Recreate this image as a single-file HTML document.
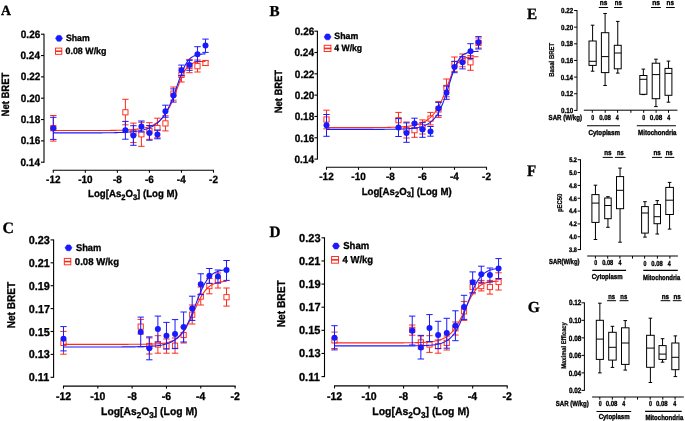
<!DOCTYPE html>
<html><head><meta charset="utf-8"><style>
html,body{margin:0;padding:0;background:#fff;width:685px;height:421px;overflow:hidden}
svg{display:block;filter:blur(0.3px)}
text{text-rendering:geometricPrecision}
.s{font-family:"Liberation Sans",sans-serif;font-weight:bold;fill:#000;stroke:#000;stroke-width:0.3px}
.sm{font-family:"Liberation Sans",sans-serif;font-weight:bold;fill:#000;stroke:#000;stroke-width:0.3px}
.v{font-family:"Liberation Sans",sans-serif;font-weight:bold;fill:#000;stroke:#000;stroke-width:0.2px}
.hid{font-family:"Liberation Sans",sans-serif;font-weight:bold;fill:transparent;stroke:none}
.r{font-family:"Liberation Serif",serif;font-weight:bold;fill:#000;stroke:#000;stroke-width:0.3px}
</style></head><body>
<svg width="685" height="421" viewBox="0 0 685 421">
<defs></defs>
<rect width="685" height="421" fill="#fff"/>
<line x1="44.00" y1="33.72" x2="44.00" y2="162.70" stroke="#000" stroke-width="1.1" />
<line x1="41.00" y1="162.20" x2="44.00" y2="162.20" stroke="#000" stroke-width="1.1" />
<text class="s" transform="translate(20.49,165.65) scale(1.0000,1.06)" font-size="10.00" >0.14</text>
<line x1="41.00" y1="140.87" x2="44.00" y2="140.87" stroke="#000" stroke-width="1.1" />
<text class="s" transform="translate(20.80,144.32) scale(1.0000,1.06)" font-size="10.00" >0.16</text>
<line x1="41.00" y1="119.54" x2="44.00" y2="119.54" stroke="#000" stroke-width="1.1" />
<text class="s" transform="translate(20.74,122.99) scale(1.0000,1.06)" font-size="10.00" >0.18</text>
<line x1="41.00" y1="98.21" x2="44.00" y2="98.21" stroke="#000" stroke-width="1.1" />
<text class="s" transform="translate(20.85,101.66) scale(1.0000,1.06)" font-size="10.00" >0.20</text>
<line x1="41.00" y1="76.88" x2="44.00" y2="76.88" stroke="#000" stroke-width="1.1" />
<text class="s" transform="translate(20.84,80.33) scale(1.0000,1.06)" font-size="10.00" >0.22</text>
<line x1="41.00" y1="55.55" x2="44.00" y2="55.55" stroke="#000" stroke-width="1.1" />
<text class="s" transform="translate(20.49,59.00) scale(1.0000,1.06)" font-size="10.00" >0.24</text>
<line x1="41.00" y1="34.22" x2="44.00" y2="34.22" stroke="#000" stroke-width="1.1" />
<text class="s" transform="translate(20.80,37.67) scale(1.0000,1.06)" font-size="10.00" >0.26</text>
<line x1="52.80" y1="170.20" x2="214.00" y2="170.20" stroke="#000" stroke-width="1.1" />
<line x1="53.30" y1="170.20" x2="53.30" y2="172.70" stroke="#000" stroke-width="1.1" />
<text class="s" transform="translate(46.11,182.80) scale(1.0000,1.06)" font-size="9.95" >-12</text>
<line x1="85.34" y1="170.20" x2="85.34" y2="172.70" stroke="#000" stroke-width="1.1" />
<text class="s" transform="translate(78.16,182.80) scale(1.0000,1.06)" font-size="9.95" >-10</text>
<line x1="117.38" y1="170.20" x2="117.38" y2="172.70" stroke="#000" stroke-width="1.1" />
<text class="s" transform="translate(112.92,182.80) scale(1.0000,1.06)" font-size="9.95" >-8</text>
<line x1="149.42" y1="170.20" x2="149.42" y2="172.70" stroke="#000" stroke-width="1.1" />
<text class="s" transform="translate(144.98,182.80) scale(1.0000,1.06)" font-size="9.95" >-6</text>
<line x1="181.46" y1="170.20" x2="181.46" y2="172.70" stroke="#000" stroke-width="1.1" />
<text class="s" transform="translate(176.87,182.80) scale(1.0000,1.06)" font-size="9.95" >-4</text>
<line x1="213.50" y1="170.20" x2="213.50" y2="172.70" stroke="#000" stroke-width="1.1" />
<text class="s" transform="translate(209.08,182.80) scale(1.0000,1.06)" font-size="9.95" >-2</text>
<line x1="53.30" y1="115.50" x2="53.30" y2="141.10" stroke="#ff2a1a" stroke-width="1.0" />
<line x1="50.10" y1="115.50" x2="56.50" y2="115.50" stroke="#ff2a1a" stroke-width="1.0" />
<line x1="50.10" y1="141.10" x2="56.50" y2="141.10" stroke="#ff2a1a" stroke-width="1.0" />
<rect x="50.70" y="125.60" width="5.2" height="5.2" fill="#fff" stroke="#ff2a1a" stroke-width="0.95"/>
<line x1="125.39" y1="99.30" x2="125.39" y2="124.80" stroke="#ff2a1a" stroke-width="1.0" />
<line x1="122.19" y1="99.30" x2="128.59" y2="99.30" stroke="#ff2a1a" stroke-width="1.0" />
<line x1="122.19" y1="124.80" x2="128.59" y2="124.80" stroke="#ff2a1a" stroke-width="1.0" />
<rect x="122.79" y="109.70" width="5.2" height="5.2" fill="#fff" stroke="#ff2a1a" stroke-width="0.95"/>
<line x1="133.40" y1="123.10" x2="133.40" y2="142.60" stroke="#ff2a1a" stroke-width="1.0" />
<line x1="130.20" y1="123.10" x2="136.60" y2="123.10" stroke="#ff2a1a" stroke-width="1.0" />
<line x1="130.20" y1="142.60" x2="136.60" y2="142.60" stroke="#ff2a1a" stroke-width="1.0" />
<rect x="130.80" y="130.30" width="5.2" height="5.2" fill="#fff" stroke="#ff2a1a" stroke-width="0.95"/>
<line x1="141.41" y1="122.30" x2="141.41" y2="146.30" stroke="#ff2a1a" stroke-width="1.0" />
<line x1="138.21" y1="122.30" x2="144.61" y2="122.30" stroke="#ff2a1a" stroke-width="1.0" />
<line x1="138.21" y1="146.30" x2="144.61" y2="146.30" stroke="#ff2a1a" stroke-width="1.0" />
<rect x="138.81" y="131.70" width="5.2" height="5.2" fill="#fff" stroke="#ff2a1a" stroke-width="0.95"/>
<line x1="149.42" y1="122.70" x2="149.42" y2="139.30" stroke="#ff2a1a" stroke-width="1.0" />
<line x1="146.22" y1="122.70" x2="152.62" y2="122.70" stroke="#ff2a1a" stroke-width="1.0" />
<line x1="146.22" y1="139.30" x2="152.62" y2="139.30" stroke="#ff2a1a" stroke-width="1.0" />
<rect x="146.82" y="128.40" width="5.2" height="5.2" fill="#fff" stroke="#ff2a1a" stroke-width="0.95"/>
<line x1="157.43" y1="118.20" x2="157.43" y2="137.80" stroke="#ff2a1a" stroke-width="1.0" />
<line x1="154.23" y1="118.20" x2="160.63" y2="118.20" stroke="#ff2a1a" stroke-width="1.0" />
<line x1="154.23" y1="137.80" x2="160.63" y2="137.80" stroke="#ff2a1a" stroke-width="1.0" />
<rect x="154.83" y="125.40" width="5.2" height="5.2" fill="#fff" stroke="#ff2a1a" stroke-width="0.95"/>
<line x1="165.44" y1="115.80" x2="165.44" y2="130.90" stroke="#ff2a1a" stroke-width="1.0" />
<line x1="162.24" y1="115.80" x2="168.64" y2="115.80" stroke="#ff2a1a" stroke-width="1.0" />
<line x1="162.24" y1="130.90" x2="168.64" y2="130.90" stroke="#ff2a1a" stroke-width="1.0" />
<rect x="162.84" y="120.80" width="5.2" height="5.2" fill="#fff" stroke="#ff2a1a" stroke-width="0.95"/>
<line x1="173.45" y1="87.00" x2="173.45" y2="100.20" stroke="#ff2a1a" stroke-width="1.0" />
<line x1="170.25" y1="87.00" x2="176.65" y2="87.00" stroke="#ff2a1a" stroke-width="1.0" />
<line x1="170.25" y1="100.20" x2="176.65" y2="100.20" stroke="#ff2a1a" stroke-width="1.0" />
<rect x="170.85" y="91.00" width="5.2" height="5.2" fill="#fff" stroke="#ff2a1a" stroke-width="0.95"/>
<line x1="181.46" y1="68.00" x2="181.46" y2="82.00" stroke="#ff2a1a" stroke-width="1.0" />
<line x1="178.26" y1="68.00" x2="184.66" y2="68.00" stroke="#ff2a1a" stroke-width="1.0" />
<line x1="178.26" y1="82.00" x2="184.66" y2="82.00" stroke="#ff2a1a" stroke-width="1.0" />
<rect x="178.86" y="72.40" width="5.2" height="5.2" fill="#fff" stroke="#ff2a1a" stroke-width="0.95"/>
<line x1="189.47" y1="59.40" x2="189.47" y2="72.70" stroke="#ff2a1a" stroke-width="1.0" />
<line x1="186.27" y1="59.40" x2="192.67" y2="59.40" stroke="#ff2a1a" stroke-width="1.0" />
<line x1="186.27" y1="72.70" x2="192.67" y2="72.70" stroke="#ff2a1a" stroke-width="1.0" />
<rect x="186.87" y="63.40" width="5.2" height="5.2" fill="#fff" stroke="#ff2a1a" stroke-width="0.95"/>
<line x1="197.48" y1="60.00" x2="197.48" y2="72.00" stroke="#ff2a1a" stroke-width="1.0" />
<line x1="194.28" y1="60.00" x2="200.68" y2="60.00" stroke="#ff2a1a" stroke-width="1.0" />
<line x1="194.28" y1="72.00" x2="200.68" y2="72.00" stroke="#ff2a1a" stroke-width="1.0" />
<rect x="194.88" y="63.60" width="5.2" height="5.2" fill="#fff" stroke="#ff2a1a" stroke-width="0.95"/>
<line x1="205.49" y1="61.00" x2="205.49" y2="65.50" stroke="#ff2a1a" stroke-width="1.0" />
<line x1="202.29" y1="61.00" x2="208.69" y2="61.00" stroke="#ff2a1a" stroke-width="1.0" />
<line x1="202.29" y1="65.50" x2="208.69" y2="65.50" stroke="#ff2a1a" stroke-width="1.0" />
<rect x="202.89" y="60.40" width="5.2" height="5.2" fill="#fff" stroke="#ff2a1a" stroke-width="0.95"/>
<path d="M53.30,130.55 L54.58,130.55 L55.86,130.55 L57.14,130.55 L58.42,130.55 L59.69,130.55 L60.97,130.55 L62.25,130.55 L63.53,130.55 L64.81,130.55 L66.09,130.55 L67.37,130.55 L68.65,130.55 L69.93,130.55 L71.20,130.55 L72.48,130.55 L73.76,130.55 L75.04,130.55 L76.32,130.55 L77.60,130.55 L78.88,130.55 L80.16,130.54 L81.44,130.54 L82.71,130.54 L83.99,130.54 L85.27,130.54 L86.55,130.54 L87.83,130.54 L89.11,130.53 L90.39,130.53 L91.67,130.53 L92.95,130.53 L94.23,130.52 L95.50,130.52 L96.78,130.52 L98.06,130.51 L99.34,130.51 L100.62,130.50 L101.90,130.49 L103.18,130.49 L104.46,130.48 L105.74,130.47 L107.01,130.46 L108.29,130.45 L109.57,130.44 L110.85,130.42 L112.13,130.41 L113.41,130.39 L114.69,130.37 L115.97,130.35 L117.25,130.32 L118.52,130.29 L119.80,130.26 L121.08,130.23 L122.36,130.19 L123.64,130.14 L124.92,130.10 L126.20,130.04 L127.48,129.98 L128.76,129.91 L130.03,129.83 L131.31,129.75 L132.59,129.65 L133.87,129.54 L135.15,129.42 L136.43,129.28 L137.71,129.13 L138.99,128.96 L140.27,128.77 L141.54,128.55 L142.82,128.31 L144.10,128.04 L145.38,127.74 L146.66,127.40 L147.94,127.02 L149.22,126.60 L150.50,126.12 L151.78,125.59 L153.05,124.99 L154.33,124.33 L155.61,123.58 L156.89,122.74 L158.17,121.81 L159.45,120.76 L160.73,119.59 L162.01,118.29 L163.29,116.84 L164.56,115.22 L165.84,113.42 L167.12,111.42 L168.40,109.22 L169.68,106.81 L170.96,104.17 L172.24,101.31 L173.52,98.25 L174.80,95.01 L176.08,91.63 L177.35,88.18 L178.63,84.74 L179.91,81.38 L181.19,78.20 L182.47,75.28 L183.75,72.67 L185.03,70.40 L186.31,68.49 L187.59,66.91 L188.86,65.64 L190.14,64.62 L191.42,63.83 L192.70,63.21 L193.98,62.74 L195.26,62.38 L196.54,62.11 L197.82,61.90 L199.10,61.75 L200.37,61.63 L201.65,61.54 L202.93,61.48 L204.21,61.43 L205.49,61.39" fill="none" stroke="#ff2a1a" stroke-width="1.1"/>
<path d="M53.30,132.92 L54.58,132.92 L55.86,132.92 L57.14,132.92 L58.42,132.92 L59.69,132.92 L60.97,132.92 L62.25,132.92 L63.53,132.92 L64.81,132.92 L66.09,132.92 L67.37,132.92 L68.65,132.92 L69.93,132.91 L71.20,132.91 L72.48,132.91 L73.76,132.91 L75.04,132.91 L76.32,132.91 L77.60,132.91 L78.88,132.91 L80.16,132.91 L81.44,132.91 L82.71,132.90 L83.99,132.90 L85.27,132.90 L86.55,132.90 L87.83,132.89 L89.11,132.89 L90.39,132.89 L91.67,132.88 L92.95,132.88 L94.23,132.87 L95.50,132.87 L96.78,132.86 L98.06,132.86 L99.34,132.85 L100.62,132.84 L101.90,132.83 L103.18,132.82 L104.46,132.81 L105.74,132.80 L107.01,132.78 L108.29,132.77 L109.57,132.75 L110.85,132.73 L112.13,132.71 L113.41,132.68 L114.69,132.66 L115.97,132.63 L117.25,132.59 L118.52,132.55 L119.80,132.51 L121.08,132.46 L122.36,132.41 L123.64,132.35 L124.92,132.29 L126.20,132.22 L127.48,132.14 L128.76,132.04 L130.03,131.94 L131.31,131.83 L132.59,131.71 L133.87,131.57 L135.15,131.41 L136.43,131.24 L137.71,131.05 L138.99,130.83 L140.27,130.59 L141.54,130.32 L142.82,130.02 L144.10,129.69 L145.38,129.32 L146.66,128.91 L147.94,128.45 L149.22,127.93 L150.50,127.36 L151.78,126.72 L153.05,126.01 L154.33,125.22 L155.61,124.34 L156.89,123.36 L158.17,122.26 L159.45,121.05 L160.73,119.70 L162.01,118.20 L163.29,116.54 L164.56,114.71 L165.84,112.68 L167.12,110.45 L168.40,108.00 L169.68,105.33 L170.96,102.44 L172.24,99.33 L173.52,96.01 L174.80,92.51 L176.08,88.89 L177.35,85.18 L178.63,81.48 L179.91,77.85 L181.19,74.38 L182.47,71.14 L183.75,68.19 L185.03,65.58 L186.31,63.32 L187.59,61.40 L188.86,59.80 L190.14,58.49 L191.42,57.44 L192.70,56.60 L193.98,55.93 L195.26,55.41 L196.54,55.01 L197.82,54.69 L199.10,54.45 L200.37,54.26 L201.65,54.12 L202.93,54.00 L204.21,53.92 L205.49,53.85" fill="none" stroke="#1a1aff" stroke-width="1.1"/>
<line x1="53.30" y1="117.30" x2="53.30" y2="139.40" stroke="#1a1aff" stroke-width="1.0" />
<line x1="50.10" y1="117.30" x2="56.50" y2="117.30" stroke="#1a1aff" stroke-width="1.0" />
<line x1="50.10" y1="139.40" x2="56.50" y2="139.40" stroke="#1a1aff" stroke-width="1.0" />
<circle cx="53.30" cy="128.30" r="3.0" fill="#1a1aff"/>
<line x1="125.39" y1="121.40" x2="125.39" y2="139.20" stroke="#1a1aff" stroke-width="1.0" />
<line x1="122.19" y1="121.40" x2="128.59" y2="121.40" stroke="#1a1aff" stroke-width="1.0" />
<line x1="122.19" y1="139.20" x2="128.59" y2="139.20" stroke="#1a1aff" stroke-width="1.0" />
<circle cx="125.39" cy="130.30" r="3.0" fill="#1a1aff"/>
<line x1="133.40" y1="125.70" x2="133.40" y2="145.30" stroke="#1a1aff" stroke-width="1.0" />
<line x1="130.20" y1="125.70" x2="136.60" y2="125.70" stroke="#1a1aff" stroke-width="1.0" />
<line x1="130.20" y1="145.30" x2="136.60" y2="145.30" stroke="#1a1aff" stroke-width="1.0" />
<circle cx="133.40" cy="135.40" r="3.0" fill="#1a1aff"/>
<line x1="141.41" y1="121.00" x2="141.41" y2="132.00" stroke="#1a1aff" stroke-width="1.0" />
<line x1="138.21" y1="121.00" x2="144.61" y2="121.00" stroke="#1a1aff" stroke-width="1.0" />
<line x1="138.21" y1="132.00" x2="144.61" y2="132.00" stroke="#1a1aff" stroke-width="1.0" />
<circle cx="141.41" cy="126.40" r="3.0" fill="#1a1aff"/>
<line x1="149.42" y1="125.50" x2="149.42" y2="140.20" stroke="#1a1aff" stroke-width="1.0" />
<line x1="146.22" y1="125.50" x2="152.62" y2="125.50" stroke="#1a1aff" stroke-width="1.0" />
<line x1="146.22" y1="140.20" x2="152.62" y2="140.20" stroke="#1a1aff" stroke-width="1.0" />
<circle cx="149.42" cy="132.90" r="3.0" fill="#1a1aff"/>
<line x1="157.43" y1="130.00" x2="157.43" y2="138.80" stroke="#1a1aff" stroke-width="1.0" />
<line x1="154.23" y1="130.00" x2="160.63" y2="130.00" stroke="#1a1aff" stroke-width="1.0" />
<line x1="154.23" y1="138.80" x2="160.63" y2="138.80" stroke="#1a1aff" stroke-width="1.0" />
<circle cx="157.43" cy="134.50" r="3.0" fill="#1a1aff"/>
<line x1="165.44" y1="105.20" x2="165.44" y2="117.20" stroke="#1a1aff" stroke-width="1.0" />
<line x1="162.24" y1="105.20" x2="168.64" y2="105.20" stroke="#1a1aff" stroke-width="1.0" />
<line x1="162.24" y1="117.20" x2="168.64" y2="117.20" stroke="#1a1aff" stroke-width="1.0" />
<circle cx="165.44" cy="111.30" r="3.0" fill="#1a1aff"/>
<line x1="173.45" y1="88.90" x2="173.45" y2="102.10" stroke="#1a1aff" stroke-width="1.0" />
<line x1="170.25" y1="88.90" x2="176.65" y2="88.90" stroke="#1a1aff" stroke-width="1.0" />
<line x1="170.25" y1="102.10" x2="176.65" y2="102.10" stroke="#1a1aff" stroke-width="1.0" />
<circle cx="173.45" cy="95.50" r="3.0" fill="#1a1aff"/>
<line x1="181.46" y1="65.10" x2="181.46" y2="75.60" stroke="#1a1aff" stroke-width="1.0" />
<line x1="178.26" y1="65.10" x2="184.66" y2="65.10" stroke="#1a1aff" stroke-width="1.0" />
<line x1="178.26" y1="75.60" x2="184.66" y2="75.60" stroke="#1a1aff" stroke-width="1.0" />
<circle cx="181.46" cy="70.30" r="3.0" fill="#1a1aff"/>
<line x1="189.47" y1="60.40" x2="189.47" y2="70.30" stroke="#1a1aff" stroke-width="1.0" />
<line x1="186.27" y1="60.40" x2="192.67" y2="60.40" stroke="#1a1aff" stroke-width="1.0" />
<line x1="186.27" y1="70.30" x2="192.67" y2="70.30" stroke="#1a1aff" stroke-width="1.0" />
<circle cx="189.47" cy="65.10" r="3.0" fill="#1a1aff"/>
<line x1="197.48" y1="46.70" x2="197.48" y2="61.30" stroke="#1a1aff" stroke-width="1.0" />
<line x1="194.28" y1="46.70" x2="200.68" y2="46.70" stroke="#1a1aff" stroke-width="1.0" />
<line x1="194.28" y1="61.30" x2="200.68" y2="61.30" stroke="#1a1aff" stroke-width="1.0" />
<circle cx="197.48" cy="54.30" r="3.0" fill="#1a1aff"/>
<line x1="205.49" y1="39.10" x2="205.49" y2="52.40" stroke="#1a1aff" stroke-width="1.0" />
<line x1="202.29" y1="39.10" x2="208.69" y2="39.10" stroke="#1a1aff" stroke-width="1.0" />
<line x1="202.29" y1="52.40" x2="208.69" y2="52.40" stroke="#1a1aff" stroke-width="1.0" />
<circle cx="205.49" cy="45.60" r="3.0" fill="#1a1aff"/>
<polygon points="55.50,38.30 57.42,35.40 60.58,35.40 62.50,38.30 60.58,41.20 57.42,41.20" fill="#1a1aff" stroke="#1a1aff" stroke-width="0.6" stroke-linejoin="round"/>
<rect x="55.5" y="48.1" width="6.299999999999997" height="6.199999999999996" fill="#fff" stroke="#ff2a1a" stroke-width="0.95"/>
<line x1="55.20" y1="51.20" x2="62.10" y2="51.20" stroke="#ff2a1a" stroke-width="1.6" />
<text class="s" transform="translate(65.95,41.10) scale(1.0043,1.06)" font-size="8.70" >Sham</text>
<text class="s" transform="translate(65.55,53.60) scale(1.0203,1.06)" font-size="8.70" >0.08 W/kg</text>
<text class="r" transform="translate(0.97,14.70) scale(1.0000,1.024)" font-size="13.76" >A</text>
<g transform="translate(4.85,94.30) rotate(-90)">
<text class="s" transform="translate(-22.17,3.66) scale(1.0000,1.12)" font-size="9.50" >Net BRET</text>
</g>
<text class="s" transform="translate(88.06,197.00) scale(1.0145,1.08)"><tspan x="0.00" y="0.00" font-size="9.50">Log[As</tspan><tspan x="32.72" y="2.64" font-size="7.41">2</tspan><tspan x="36.84" y="0.00" font-size="9.50">O</tspan><tspan x="44.23" y="2.64" font-size="7.41">3</tspan><tspan x="48.35" y="0.00" font-size="9.50">] (Log M)</tspan></text>
<line x1="317.40" y1="30.68" x2="317.40" y2="159.60" stroke="#000" stroke-width="1.1" />
<line x1="314.40" y1="159.10" x2="317.40" y2="159.10" stroke="#000" stroke-width="1.1" />
<text class="s" transform="translate(294.49,162.85) scale(1.0000,1.06)" font-size="10.00" >0.14</text>
<line x1="314.40" y1="137.78" x2="317.40" y2="137.78" stroke="#000" stroke-width="1.1" />
<text class="s" transform="translate(294.80,141.53) scale(1.0000,1.06)" font-size="10.00" >0.16</text>
<line x1="314.40" y1="116.46" x2="317.40" y2="116.46" stroke="#000" stroke-width="1.1" />
<text class="s" transform="translate(294.74,120.21) scale(1.0000,1.06)" font-size="10.00" >0.18</text>
<line x1="314.40" y1="95.14" x2="317.40" y2="95.14" stroke="#000" stroke-width="1.1" />
<text class="s" transform="translate(294.85,98.89) scale(1.0000,1.06)" font-size="10.00" >0.20</text>
<line x1="314.40" y1="73.82" x2="317.40" y2="73.82" stroke="#000" stroke-width="1.1" />
<text class="s" transform="translate(294.84,77.57) scale(1.0000,1.06)" font-size="10.00" >0.22</text>
<line x1="314.40" y1="52.50" x2="317.40" y2="52.50" stroke="#000" stroke-width="1.1" />
<text class="s" transform="translate(294.49,56.25) scale(1.0000,1.06)" font-size="10.00" >0.24</text>
<line x1="314.40" y1="31.18" x2="317.40" y2="31.18" stroke="#000" stroke-width="1.1" />
<text class="s" transform="translate(294.80,34.93) scale(1.0000,1.06)" font-size="10.00" >0.26</text>
<line x1="326.00" y1="167.30" x2="487.00" y2="167.30" stroke="#000" stroke-width="1.1" />
<line x1="326.50" y1="167.30" x2="326.50" y2="169.80" stroke="#000" stroke-width="1.1" />
<text class="s" transform="translate(319.31,179.60) scale(1.0000,1.06)" font-size="9.95" >-12</text>
<line x1="358.50" y1="167.30" x2="358.50" y2="169.80" stroke="#000" stroke-width="1.1" />
<text class="s" transform="translate(351.32,179.60) scale(1.0000,1.06)" font-size="9.95" >-10</text>
<line x1="390.50" y1="167.30" x2="390.50" y2="169.80" stroke="#000" stroke-width="1.1" />
<text class="s" transform="translate(386.04,179.60) scale(1.0000,1.06)" font-size="9.95" >-8</text>
<line x1="422.50" y1="167.30" x2="422.50" y2="169.80" stroke="#000" stroke-width="1.1" />
<text class="s" transform="translate(418.06,179.60) scale(1.0000,1.06)" font-size="9.95" >-6</text>
<line x1="454.50" y1="167.30" x2="454.50" y2="169.80" stroke="#000" stroke-width="1.1" />
<text class="s" transform="translate(449.91,179.60) scale(1.0000,1.06)" font-size="9.95" >-4</text>
<line x1="486.50" y1="167.30" x2="486.50" y2="169.80" stroke="#000" stroke-width="1.1" />
<text class="s" transform="translate(482.08,179.60) scale(1.0000,1.06)" font-size="9.95" >-2</text>
<line x1="326.50" y1="110.20" x2="326.50" y2="128.80" stroke="#ff2a1a" stroke-width="1.0" />
<line x1="323.30" y1="110.20" x2="329.70" y2="110.20" stroke="#ff2a1a" stroke-width="1.0" />
<line x1="323.30" y1="128.80" x2="329.70" y2="128.80" stroke="#ff2a1a" stroke-width="1.0" />
<rect x="323.90" y="116.90" width="5.2" height="5.2" fill="#fff" stroke="#ff2a1a" stroke-width="0.95"/>
<line x1="398.50" y1="112.40" x2="398.50" y2="128.00" stroke="#ff2a1a" stroke-width="1.0" />
<line x1="395.30" y1="112.40" x2="401.70" y2="112.40" stroke="#ff2a1a" stroke-width="1.0" />
<line x1="395.30" y1="128.00" x2="401.70" y2="128.00" stroke="#ff2a1a" stroke-width="1.0" />
<rect x="395.90" y="117.60" width="5.2" height="5.2" fill="#fff" stroke="#ff2a1a" stroke-width="0.95"/>
<line x1="406.50" y1="122.00" x2="406.50" y2="138.00" stroke="#ff2a1a" stroke-width="1.0" />
<line x1="403.30" y1="122.00" x2="409.70" y2="122.00" stroke="#ff2a1a" stroke-width="1.0" />
<line x1="403.30" y1="138.00" x2="409.70" y2="138.00" stroke="#ff2a1a" stroke-width="1.0" />
<rect x="403.90" y="127.40" width="5.2" height="5.2" fill="#fff" stroke="#ff2a1a" stroke-width="0.95"/>
<line x1="414.50" y1="123.10" x2="414.50" y2="137.30" stroke="#ff2a1a" stroke-width="1.0" />
<line x1="411.30" y1="123.10" x2="417.70" y2="123.10" stroke="#ff2a1a" stroke-width="1.0" />
<line x1="411.30" y1="137.30" x2="417.70" y2="137.30" stroke="#ff2a1a" stroke-width="1.0" />
<rect x="411.90" y="127.60" width="5.2" height="5.2" fill="#fff" stroke="#ff2a1a" stroke-width="0.95"/>
<line x1="422.50" y1="119.90" x2="422.50" y2="134.00" stroke="#ff2a1a" stroke-width="1.0" />
<line x1="419.30" y1="119.90" x2="425.70" y2="119.90" stroke="#ff2a1a" stroke-width="1.0" />
<line x1="419.30" y1="134.00" x2="425.70" y2="134.00" stroke="#ff2a1a" stroke-width="1.0" />
<rect x="419.90" y="124.40" width="5.2" height="5.2" fill="#fff" stroke="#ff2a1a" stroke-width="0.95"/>
<line x1="430.50" y1="112.40" x2="430.50" y2="124.90" stroke="#ff2a1a" stroke-width="1.0" />
<line x1="427.30" y1="112.40" x2="433.70" y2="112.40" stroke="#ff2a1a" stroke-width="1.0" />
<line x1="427.30" y1="124.90" x2="433.70" y2="124.90" stroke="#ff2a1a" stroke-width="1.0" />
<rect x="427.90" y="116.00" width="5.2" height="5.2" fill="#fff" stroke="#ff2a1a" stroke-width="0.95"/>
<line x1="438.50" y1="101.60" x2="438.50" y2="117.40" stroke="#ff2a1a" stroke-width="1.0" />
<line x1="435.30" y1="101.60" x2="441.70" y2="101.60" stroke="#ff2a1a" stroke-width="1.0" />
<line x1="435.30" y1="117.40" x2="441.70" y2="117.40" stroke="#ff2a1a" stroke-width="1.0" />
<rect x="435.90" y="106.90" width="5.2" height="5.2" fill="#fff" stroke="#ff2a1a" stroke-width="0.95"/>
<line x1="446.50" y1="79.00" x2="446.50" y2="96.80" stroke="#ff2a1a" stroke-width="1.0" />
<line x1="443.30" y1="79.00" x2="449.70" y2="79.00" stroke="#ff2a1a" stroke-width="1.0" />
<line x1="443.30" y1="96.80" x2="449.70" y2="96.80" stroke="#ff2a1a" stroke-width="1.0" />
<rect x="443.90" y="85.30" width="5.2" height="5.2" fill="#fff" stroke="#ff2a1a" stroke-width="0.95"/>
<line x1="454.50" y1="57.00" x2="454.50" y2="71.40" stroke="#ff2a1a" stroke-width="1.0" />
<line x1="451.30" y1="57.00" x2="457.70" y2="57.00" stroke="#ff2a1a" stroke-width="1.0" />
<line x1="451.30" y1="71.40" x2="457.70" y2="71.40" stroke="#ff2a1a" stroke-width="1.0" />
<rect x="451.90" y="61.60" width="5.2" height="5.2" fill="#fff" stroke="#ff2a1a" stroke-width="0.95"/>
<line x1="462.50" y1="54.00" x2="462.50" y2="66.80" stroke="#ff2a1a" stroke-width="1.0" />
<line x1="459.30" y1="54.00" x2="465.70" y2="54.00" stroke="#ff2a1a" stroke-width="1.0" />
<line x1="459.30" y1="66.80" x2="465.70" y2="66.80" stroke="#ff2a1a" stroke-width="1.0" />
<rect x="459.90" y="57.80" width="5.2" height="5.2" fill="#fff" stroke="#ff2a1a" stroke-width="0.95"/>
<line x1="470.50" y1="55.60" x2="470.50" y2="70.30" stroke="#ff2a1a" stroke-width="1.0" />
<line x1="467.30" y1="55.60" x2="473.70" y2="55.60" stroke="#ff2a1a" stroke-width="1.0" />
<line x1="467.30" y1="70.30" x2="473.70" y2="70.30" stroke="#ff2a1a" stroke-width="1.0" />
<rect x="467.90" y="59.70" width="5.2" height="5.2" fill="#fff" stroke="#ff2a1a" stroke-width="0.95"/>
<line x1="478.50" y1="38.00" x2="478.50" y2="48.00" stroke="#ff2a1a" stroke-width="1.0" />
<line x1="475.30" y1="38.00" x2="481.70" y2="38.00" stroke="#ff2a1a" stroke-width="1.0" />
<line x1="475.30" y1="48.00" x2="481.70" y2="48.00" stroke="#ff2a1a" stroke-width="1.0" />
<rect x="475.90" y="40.30" width="5.2" height="5.2" fill="#fff" stroke="#ff2a1a" stroke-width="0.95"/>
<path d="M326.50,127.64 L327.78,127.64 L329.05,127.64 L330.33,127.64 L331.61,127.64 L332.89,127.64 L334.16,127.64 L335.44,127.64 L336.72,127.64 L338.00,127.64 L339.27,127.64 L340.55,127.64 L341.83,127.64 L343.11,127.63 L344.38,127.63 L345.66,127.63 L346.94,127.63 L348.21,127.63 L349.49,127.63 L350.77,127.63 L352.05,127.63 L353.32,127.63 L354.60,127.63 L355.88,127.63 L357.16,127.62 L358.43,127.62 L359.71,127.62 L360.99,127.62 L362.26,127.62 L363.54,127.61 L364.82,127.61 L366.10,127.61 L367.37,127.60 L368.65,127.60 L369.93,127.59 L371.21,127.59 L372.48,127.58 L373.76,127.57 L375.04,127.57 L376.32,127.56 L377.59,127.55 L378.87,127.54 L380.15,127.53 L381.42,127.51 L382.70,127.50 L383.98,127.48 L385.26,127.46 L386.53,127.44 L387.81,127.41 L389.09,127.39 L390.37,127.36 L391.64,127.32 L392.92,127.28 L394.20,127.24 L395.47,127.19 L396.75,127.14 L398.03,127.08 L399.31,127.01 L400.58,126.93 L401.86,126.84 L403.14,126.75 L404.42,126.64 L405.69,126.52 L406.97,126.38 L408.25,126.23 L409.53,126.06 L410.80,125.87 L412.08,125.66 L413.36,125.42 L414.63,125.15 L415.91,124.84 L417.19,124.51 L418.47,124.13 L419.74,123.70 L421.02,123.22 L422.30,122.69 L423.58,122.09 L424.85,121.42 L426.13,120.67 L427.41,119.83 L428.68,118.88 L429.96,117.83 L431.24,116.65 L432.52,115.34 L433.79,113.87 L435.07,112.23 L436.35,110.41 L437.63,108.39 L438.90,106.17 L440.18,103.72 L441.46,101.05 L442.74,98.15 L444.01,95.04 L445.29,91.75 L446.57,88.31 L447.84,84.80 L449.12,81.27 L450.40,77.83 L451.68,74.56 L452.95,71.54 L454.23,68.83 L455.51,66.46 L456.79,64.44 L458.06,62.77 L459.34,61.41 L460.62,60.32 L461.89,59.46 L463.17,58.80 L464.45,58.28 L465.73,57.88 L467.00,57.58 L468.28,57.35 L469.56,57.18 L470.84,57.05 L472.11,56.95 L473.39,56.88 L474.67,56.82 L475.95,56.78 L477.22,56.75 L478.50,56.73" fill="none" stroke="#ff2a1a" stroke-width="1.1"/>
<path d="M326.50,129.38 L327.78,129.38 L329.05,129.38 L330.33,129.38 L331.61,129.38 L332.89,129.38 L334.16,129.38 L335.44,129.38 L336.72,129.38 L338.00,129.37 L339.27,129.37 L340.55,129.37 L341.83,129.37 L343.11,129.37 L344.38,129.37 L345.66,129.37 L346.94,129.37 L348.21,129.37 L349.49,129.37 L350.77,129.37 L352.05,129.37 L353.32,129.37 L354.60,129.37 L355.88,129.37 L357.16,129.37 L358.43,129.37 L359.71,129.37 L360.99,129.37 L362.26,129.37 L363.54,129.37 L364.82,129.37 L366.10,129.37 L367.37,129.37 L368.65,129.37 L369.93,129.37 L371.21,129.36 L372.48,129.36 L373.76,129.36 L375.04,129.36 L376.32,129.36 L377.59,129.35 L378.87,129.35 L380.15,129.35 L381.42,129.34 L382.70,129.34 L383.98,129.33 L385.26,129.32 L386.53,129.32 L387.81,129.31 L389.09,129.30 L390.37,129.28 L391.64,129.27 L392.92,129.26 L394.20,129.24 L395.47,129.22 L396.75,129.19 L398.03,129.17 L399.31,129.13 L400.58,129.10 L401.86,129.06 L403.14,129.01 L404.42,128.95 L405.69,128.89 L406.97,128.82 L408.25,128.74 L409.53,128.64 L410.80,128.53 L412.08,128.40 L413.36,128.26 L414.63,128.09 L415.91,127.90 L417.19,127.68 L418.47,127.42 L419.74,127.13 L421.02,126.80 L422.30,126.41 L423.58,125.97 L424.85,125.46 L426.13,124.88 L427.41,124.21 L428.68,123.44 L429.96,122.56 L431.24,121.55 L432.52,120.40 L433.79,119.08 L435.07,117.58 L436.35,115.87 L437.63,113.93 L438.90,111.74 L440.18,109.28 L441.46,106.53 L442.74,103.49 L444.01,100.16 L445.29,96.56 L446.57,92.72 L447.84,88.70 L449.12,84.59 L450.40,80.47 L451.68,76.46 L452.95,72.66 L454.23,69.14 L455.51,65.99 L456.79,63.23 L458.06,60.87 L459.34,58.89 L460.62,57.26 L461.89,55.94 L463.17,54.89 L464.45,54.06 L465.73,53.40 L467.00,52.89 L468.28,52.49 L469.56,52.19 L470.84,51.95 L472.11,51.77 L473.39,51.63 L474.67,51.52 L475.95,51.44 L477.22,51.38 L478.50,51.33" fill="none" stroke="#1a1aff" stroke-width="1.1"/>
<line x1="326.50" y1="114.50" x2="326.50" y2="136.30" stroke="#1a1aff" stroke-width="1.0" />
<line x1="323.30" y1="114.50" x2="329.70" y2="114.50" stroke="#1a1aff" stroke-width="1.0" />
<line x1="323.30" y1="136.30" x2="329.70" y2="136.30" stroke="#1a1aff" stroke-width="1.0" />
<circle cx="326.50" cy="125.30" r="3.0" fill="#1a1aff"/>
<line x1="398.50" y1="118.60" x2="398.50" y2="136.50" stroke="#1a1aff" stroke-width="1.0" />
<line x1="395.30" y1="118.60" x2="401.70" y2="118.60" stroke="#1a1aff" stroke-width="1.0" />
<line x1="395.30" y1="136.50" x2="401.70" y2="136.50" stroke="#1a1aff" stroke-width="1.0" />
<circle cx="398.50" cy="127.40" r="3.0" fill="#1a1aff"/>
<line x1="406.50" y1="122.90" x2="406.50" y2="142.30" stroke="#1a1aff" stroke-width="1.0" />
<line x1="403.30" y1="122.90" x2="409.70" y2="122.90" stroke="#1a1aff" stroke-width="1.0" />
<line x1="403.30" y1="142.30" x2="409.70" y2="142.30" stroke="#1a1aff" stroke-width="1.0" />
<circle cx="406.50" cy="132.90" r="3.0" fill="#1a1aff"/>
<line x1="414.50" y1="118.20" x2="414.50" y2="128.20" stroke="#1a1aff" stroke-width="1.0" />
<line x1="411.30" y1="118.20" x2="417.70" y2="118.20" stroke="#1a1aff" stroke-width="1.0" />
<line x1="411.30" y1="128.20" x2="417.70" y2="128.20" stroke="#1a1aff" stroke-width="1.0" />
<circle cx="414.50" cy="123.50" r="3.0" fill="#1a1aff"/>
<line x1="422.50" y1="122.40" x2="422.50" y2="137.30" stroke="#1a1aff" stroke-width="1.0" />
<line x1="419.30" y1="122.40" x2="425.70" y2="122.40" stroke="#1a1aff" stroke-width="1.0" />
<line x1="419.30" y1="137.30" x2="425.70" y2="137.30" stroke="#1a1aff" stroke-width="1.0" />
<circle cx="422.50" cy="129.50" r="3.0" fill="#1a1aff"/>
<line x1="430.50" y1="126.50" x2="430.50" y2="136.20" stroke="#1a1aff" stroke-width="1.0" />
<line x1="427.30" y1="126.50" x2="433.70" y2="126.50" stroke="#1a1aff" stroke-width="1.0" />
<line x1="427.30" y1="136.20" x2="433.70" y2="136.20" stroke="#1a1aff" stroke-width="1.0" />
<circle cx="430.50" cy="131.50" r="3.0" fill="#1a1aff"/>
<line x1="438.50" y1="102.40" x2="438.50" y2="115.70" stroke="#1a1aff" stroke-width="1.0" />
<line x1="435.30" y1="102.40" x2="441.70" y2="102.40" stroke="#1a1aff" stroke-width="1.0" />
<line x1="435.30" y1="115.70" x2="441.70" y2="115.70" stroke="#1a1aff" stroke-width="1.0" />
<circle cx="438.50" cy="108.30" r="3.0" fill="#1a1aff"/>
<line x1="446.50" y1="86.00" x2="446.50" y2="99.30" stroke="#1a1aff" stroke-width="1.0" />
<line x1="443.30" y1="86.00" x2="449.70" y2="86.00" stroke="#1a1aff" stroke-width="1.0" />
<line x1="443.30" y1="99.30" x2="449.70" y2="99.30" stroke="#1a1aff" stroke-width="1.0" />
<circle cx="446.50" cy="92.70" r="3.0" fill="#1a1aff"/>
<line x1="454.50" y1="61.30" x2="454.50" y2="72.70" stroke="#1a1aff" stroke-width="1.0" />
<line x1="451.30" y1="61.30" x2="457.70" y2="61.30" stroke="#1a1aff" stroke-width="1.0" />
<line x1="451.30" y1="72.70" x2="457.70" y2="72.70" stroke="#1a1aff" stroke-width="1.0" />
<circle cx="454.50" cy="67.00" r="3.0" fill="#1a1aff"/>
<line x1="462.50" y1="56.60" x2="462.50" y2="68.90" stroke="#1a1aff" stroke-width="1.0" />
<line x1="459.30" y1="56.60" x2="465.70" y2="56.60" stroke="#1a1aff" stroke-width="1.0" />
<line x1="459.30" y1="68.90" x2="465.70" y2="68.90" stroke="#1a1aff" stroke-width="1.0" />
<circle cx="462.50" cy="62.30" r="3.0" fill="#1a1aff"/>
<line x1="470.50" y1="43.70" x2="470.50" y2="58.50" stroke="#1a1aff" stroke-width="1.0" />
<line x1="467.30" y1="43.70" x2="473.70" y2="43.70" stroke="#1a1aff" stroke-width="1.0" />
<line x1="467.30" y1="58.50" x2="473.70" y2="58.50" stroke="#1a1aff" stroke-width="1.0" />
<circle cx="470.50" cy="51.30" r="3.0" fill="#1a1aff"/>
<line x1="478.50" y1="36.60" x2="478.50" y2="49.00" stroke="#1a1aff" stroke-width="1.0" />
<line x1="475.30" y1="36.60" x2="481.70" y2="36.60" stroke="#1a1aff" stroke-width="1.0" />
<line x1="475.30" y1="49.00" x2="481.70" y2="49.00" stroke="#1a1aff" stroke-width="1.0" />
<circle cx="478.50" cy="42.30" r="3.0" fill="#1a1aff"/>
<polygon points="324.10,36.90 326.03,34.00 329.18,34.00 331.10,36.90 329.18,39.80 326.03,39.80" fill="#1a1aff" stroke="#1a1aff" stroke-width="0.6" stroke-linejoin="round"/>
<rect x="324.2" y="45.3" width="6.699999999999989" height="6.200000000000003" fill="#fff" stroke="#ff2a1a" stroke-width="0.95"/>
<line x1="323.90" y1="48.40" x2="331.20" y2="48.40" stroke="#ff2a1a" stroke-width="1.6" />
<text class="s" transform="translate(334.35,39.20) scale(1.0087,1.06)" font-size="8.70" >Sham</text>
<text class="s" transform="translate(334.27,51.10) scale(0.9955,1.06)" font-size="8.70" >4 W/kg</text>
<text class="r" transform="translate(269.45,16.36) scale(1.0000,1.007)" font-size="15.10" >B</text>
<g transform="translate(278.00,91.30) rotate(-90)">
<text class="s" transform="translate(-21.94,3.62) scale(1.0000,1.12)" font-size="9.40" >Net BRET</text>
</g>
<text class="s" transform="translate(361.65,194.50) scale(1.0180,1.08)"><tspan x="0.00" y="0.00" font-size="9.50">Log[As</tspan><tspan x="32.72" y="2.64" font-size="7.41">2</tspan><tspan x="36.84" y="0.00" font-size="9.50">O</tspan><tspan x="44.23" y="2.64" font-size="7.41">3</tspan><tspan x="48.35" y="0.00" font-size="9.50">] (Log M)</tspan></text>
<line x1="53.60" y1="239.40" x2="53.60" y2="377.80" stroke="#000" stroke-width="1.1" />
<line x1="50.60" y1="377.30" x2="53.60" y2="377.30" stroke="#000" stroke-width="1.1" />
<text class="s" transform="translate(28.68,381.37) scale(1.0000,1.06)" font-size="10.85" >0.11</text>
<line x1="50.60" y1="354.40" x2="53.60" y2="354.40" stroke="#000" stroke-width="1.1" />
<text class="s" transform="translate(28.77,358.47) scale(1.0000,1.06)" font-size="10.85" >0.13</text>
<line x1="50.60" y1="331.50" x2="53.60" y2="331.50" stroke="#000" stroke-width="1.1" />
<text class="s" transform="translate(28.68,335.57) scale(1.0000,1.06)" font-size="10.85" >0.15</text>
<line x1="50.60" y1="308.60" x2="53.60" y2="308.60" stroke="#000" stroke-width="1.1" />
<text class="s" transform="translate(28.86,312.67) scale(1.0000,1.06)" font-size="10.85" >0.17</text>
<line x1="50.60" y1="285.70" x2="53.60" y2="285.70" stroke="#000" stroke-width="1.1" />
<text class="s" transform="translate(28.79,289.77) scale(1.0000,1.06)" font-size="10.85" >0.19</text>
<line x1="50.60" y1="262.80" x2="53.60" y2="262.80" stroke="#000" stroke-width="1.1" />
<text class="s" transform="translate(28.68,266.87) scale(1.0000,1.06)" font-size="10.85" >0.21</text>
<line x1="50.60" y1="239.90" x2="53.60" y2="239.90" stroke="#000" stroke-width="1.1" />
<text class="s" transform="translate(28.77,243.97) scale(1.0000,1.06)" font-size="10.85" >0.23</text>
<line x1="63.00" y1="386.10" x2="235.60" y2="386.10" stroke="#000" stroke-width="1.1" />
<line x1="63.50" y1="386.10" x2="63.50" y2="388.60" stroke="#000" stroke-width="1.1" />
<text class="s" transform="translate(55.92,399.70) scale(1.0000,1.06)" font-size="10.50" >-12</text>
<line x1="97.82" y1="386.10" x2="97.82" y2="388.60" stroke="#000" stroke-width="1.1" />
<text class="s" transform="translate(90.24,399.70) scale(1.0000,1.06)" font-size="10.50" >-10</text>
<line x1="132.14" y1="386.10" x2="132.14" y2="388.60" stroke="#000" stroke-width="1.1" />
<text class="s" transform="translate(127.43,399.70) scale(1.0000,1.06)" font-size="10.50" >-8</text>
<line x1="166.46" y1="386.10" x2="166.46" y2="388.60" stroke="#000" stroke-width="1.1" />
<text class="s" transform="translate(161.78,399.70) scale(1.0000,1.06)" font-size="10.50" >-6</text>
<line x1="200.78" y1="386.10" x2="200.78" y2="388.60" stroke="#000" stroke-width="1.1" />
<text class="s" transform="translate(195.94,399.70) scale(1.0000,1.06)" font-size="10.50" >-4</text>
<line x1="235.10" y1="386.10" x2="235.10" y2="388.60" stroke="#000" stroke-width="1.1" />
<text class="s" transform="translate(230.44,399.70) scale(1.0000,1.06)" font-size="10.50" >-2</text>
<line x1="63.50" y1="331.40" x2="63.50" y2="354.20" stroke="#ff2a1a" stroke-width="1.0" />
<line x1="60.30" y1="331.40" x2="66.70" y2="331.40" stroke="#ff2a1a" stroke-width="1.0" />
<line x1="60.30" y1="354.20" x2="66.70" y2="354.20" stroke="#ff2a1a" stroke-width="1.0" />
<rect x="60.90" y="340.30" width="5.2" height="5.2" fill="#fff" stroke="#ff2a1a" stroke-width="0.95"/>
<line x1="140.72" y1="319.40" x2="140.72" y2="334.00" stroke="#ff2a1a" stroke-width="1.0" />
<line x1="137.52" y1="319.40" x2="143.92" y2="319.40" stroke="#ff2a1a" stroke-width="1.0" />
<line x1="137.52" y1="334.00" x2="143.92" y2="334.00" stroke="#ff2a1a" stroke-width="1.0" />
<rect x="138.12" y="324.00" width="5.2" height="5.2" fill="#fff" stroke="#ff2a1a" stroke-width="0.95"/>
<line x1="149.30" y1="337.90" x2="149.30" y2="354.00" stroke="#ff2a1a" stroke-width="1.0" />
<line x1="146.10" y1="337.90" x2="152.50" y2="337.90" stroke="#ff2a1a" stroke-width="1.0" />
<line x1="146.10" y1="354.00" x2="152.50" y2="354.00" stroke="#ff2a1a" stroke-width="1.0" />
<rect x="146.70" y="343.40" width="5.2" height="5.2" fill="#fff" stroke="#ff2a1a" stroke-width="0.95"/>
<line x1="157.88" y1="335.70" x2="157.88" y2="353.20" stroke="#ff2a1a" stroke-width="1.0" />
<line x1="154.68" y1="335.70" x2="161.08" y2="335.70" stroke="#ff2a1a" stroke-width="1.0" />
<line x1="154.68" y1="353.20" x2="161.08" y2="353.20" stroke="#ff2a1a" stroke-width="1.0" />
<rect x="155.28" y="341.90" width="5.2" height="5.2" fill="#fff" stroke="#ff2a1a" stroke-width="0.95"/>
<line x1="166.46" y1="339.00" x2="166.46" y2="353.20" stroke="#ff2a1a" stroke-width="1.0" />
<line x1="163.26" y1="339.00" x2="169.66" y2="339.00" stroke="#ff2a1a" stroke-width="1.0" />
<line x1="163.26" y1="353.20" x2="169.66" y2="353.20" stroke="#ff2a1a" stroke-width="1.0" />
<rect x="163.86" y="343.60" width="5.2" height="5.2" fill="#fff" stroke="#ff2a1a" stroke-width="0.95"/>
<line x1="175.04" y1="338.00" x2="175.04" y2="353.20" stroke="#ff2a1a" stroke-width="1.0" />
<line x1="171.84" y1="338.00" x2="178.24" y2="338.00" stroke="#ff2a1a" stroke-width="1.0" />
<line x1="171.84" y1="353.20" x2="178.24" y2="353.20" stroke="#ff2a1a" stroke-width="1.0" />
<rect x="172.44" y="343.10" width="5.2" height="5.2" fill="#fff" stroke="#ff2a1a" stroke-width="0.95"/>
<line x1="183.62" y1="327.00" x2="183.62" y2="343.00" stroke="#ff2a1a" stroke-width="1.0" />
<line x1="180.42" y1="327.00" x2="186.82" y2="327.00" stroke="#ff2a1a" stroke-width="1.0" />
<line x1="180.42" y1="343.00" x2="186.82" y2="343.00" stroke="#ff2a1a" stroke-width="1.0" />
<rect x="181.02" y="332.40" width="5.2" height="5.2" fill="#fff" stroke="#ff2a1a" stroke-width="0.95"/>
<line x1="192.20" y1="305.00" x2="192.20" y2="324.00" stroke="#ff2a1a" stroke-width="1.0" />
<line x1="189.00" y1="305.00" x2="195.40" y2="305.00" stroke="#ff2a1a" stroke-width="1.0" />
<line x1="189.00" y1="324.00" x2="195.40" y2="324.00" stroke="#ff2a1a" stroke-width="1.0" />
<rect x="189.60" y="312.10" width="5.2" height="5.2" fill="#fff" stroke="#ff2a1a" stroke-width="0.95"/>
<line x1="200.78" y1="287.00" x2="200.78" y2="305.00" stroke="#ff2a1a" stroke-width="1.0" />
<line x1="197.58" y1="287.00" x2="203.98" y2="287.00" stroke="#ff2a1a" stroke-width="1.0" />
<line x1="197.58" y1="305.00" x2="203.98" y2="305.00" stroke="#ff2a1a" stroke-width="1.0" />
<rect x="198.18" y="294.00" width="5.2" height="5.2" fill="#fff" stroke="#ff2a1a" stroke-width="0.95"/>
<line x1="209.36" y1="278.50" x2="209.36" y2="293.80" stroke="#ff2a1a" stroke-width="1.0" />
<line x1="206.16" y1="278.50" x2="212.56" y2="278.50" stroke="#ff2a1a" stroke-width="1.0" />
<line x1="206.16" y1="293.80" x2="212.56" y2="293.80" stroke="#ff2a1a" stroke-width="1.0" />
<rect x="206.76" y="283.50" width="5.2" height="5.2" fill="#fff" stroke="#ff2a1a" stroke-width="0.95"/>
<line x1="217.94" y1="273.00" x2="217.94" y2="288.00" stroke="#ff2a1a" stroke-width="1.0" />
<line x1="214.74" y1="273.00" x2="221.14" y2="273.00" stroke="#ff2a1a" stroke-width="1.0" />
<line x1="214.74" y1="288.00" x2="221.14" y2="288.00" stroke="#ff2a1a" stroke-width="1.0" />
<rect x="215.34" y="277.80" width="5.2" height="5.2" fill="#fff" stroke="#ff2a1a" stroke-width="0.95"/>
<line x1="226.52" y1="288.00" x2="226.52" y2="306.10" stroke="#ff2a1a" stroke-width="1.0" />
<line x1="223.32" y1="288.00" x2="229.72" y2="288.00" stroke="#ff2a1a" stroke-width="1.0" />
<line x1="223.32" y1="306.10" x2="229.72" y2="306.10" stroke="#ff2a1a" stroke-width="1.0" />
<rect x="223.92" y="294.60" width="5.2" height="5.2" fill="#fff" stroke="#ff2a1a" stroke-width="0.95"/>
<path d="M63.50,344.34 L64.87,344.34 L66.24,344.34 L67.61,344.34 L68.98,344.34 L70.35,344.34 L71.72,344.34 L73.09,344.34 L74.46,344.34 L75.83,344.34 L77.20,344.34 L78.57,344.34 L79.94,344.34 L81.31,344.34 L82.68,344.34 L84.05,344.34 L85.42,344.34 L86.79,344.34 L88.16,344.34 L89.53,344.34 L90.90,344.34 L92.27,344.34 L93.64,344.34 L95.01,344.34 L96.38,344.34 L97.75,344.34 L99.12,344.34 L100.49,344.34 L101.86,344.34 L103.23,344.34 L104.60,344.34 L105.97,344.34 L107.34,344.34 L108.71,344.34 L110.08,344.34 L111.45,344.34 L112.82,344.34 L114.19,344.34 L115.56,344.34 L116.93,344.34 L118.30,344.34 L119.67,344.34 L121.04,344.34 L122.41,344.33 L123.78,344.33 L125.15,344.33 L126.52,344.33 L127.89,344.33 L129.26,344.32 L130.63,344.32 L132.00,344.32 L133.37,344.31 L134.74,344.31 L136.11,344.30 L137.48,344.30 L138.85,344.29 L140.22,344.28 L141.59,344.27 L142.96,344.25 L144.33,344.23 L145.69,344.21 L147.06,344.19 L148.43,344.16 L149.80,344.13 L151.17,344.09 L152.54,344.04 L153.91,343.99 L155.28,343.92 L156.65,343.84 L158.02,343.75 L159.39,343.64 L160.76,343.51 L162.13,343.36 L163.50,343.17 L164.87,342.96 L166.24,342.70 L167.61,342.40 L168.98,342.04 L170.35,341.62 L171.72,341.13 L173.09,340.55 L174.46,339.87 L175.83,339.07 L177.20,338.14 L178.57,337.07 L179.94,335.82 L181.31,334.39 L182.68,332.76 L184.05,330.91 L185.42,328.85 L186.79,326.55 L188.16,324.04 L189.53,321.33 L190.90,318.45 L192.27,315.44 L193.64,312.35 L195.01,309.24 L196.38,306.17 L197.75,303.21 L199.12,300.39 L200.49,297.77 L201.86,295.37 L203.23,293.22 L204.60,291.31 L205.97,289.63 L207.34,288.19 L208.71,286.96 L210.08,285.91 L211.45,285.03 L212.82,284.29 L214.19,283.68 L215.56,283.18 L216.93,282.76 L218.30,282.42 L219.67,282.13 L221.04,281.90 L222.41,281.72 L223.78,281.56 L225.15,281.44 L226.52,281.34" fill="none" stroke="#ff2a1a" stroke-width="1.1"/>
<path d="M63.50,346.96 L64.87,346.96 L66.24,346.96 L67.61,346.96 L68.98,346.96 L70.35,346.96 L71.72,346.96 L73.09,346.96 L74.46,346.96 L75.83,346.96 L77.20,346.96 L78.57,346.96 L79.94,346.96 L81.31,346.96 L82.68,346.96 L84.05,346.96 L85.42,346.96 L86.79,346.96 L88.16,346.96 L89.53,346.96 L90.90,346.96 L92.27,346.96 L93.64,346.96 L95.01,346.96 L96.38,346.96 L97.75,346.96 L99.12,346.96 L100.49,346.96 L101.86,346.95 L103.23,346.95 L104.60,346.95 L105.97,346.95 L107.34,346.95 L108.71,346.95 L110.08,346.95 L111.45,346.95 L112.82,346.94 L114.19,346.94 L115.56,346.94 L116.93,346.94 L118.30,346.93 L119.67,346.93 L121.04,346.93 L122.41,346.92 L123.78,346.91 L125.15,346.91 L126.52,346.90 L127.89,346.89 L129.26,346.88 L130.63,346.87 L132.00,346.86 L133.37,346.84 L134.74,346.83 L136.11,346.81 L137.48,346.78 L138.85,346.76 L140.22,346.73 L141.59,346.70 L142.96,346.66 L144.33,346.61 L145.69,346.56 L147.06,346.50 L148.43,346.44 L149.80,346.36 L151.17,346.27 L152.54,346.17 L153.91,346.06 L155.28,345.93 L156.65,345.78 L158.02,345.61 L159.39,345.41 L160.76,345.18 L162.13,344.93 L163.50,344.63 L164.87,344.29 L166.24,343.91 L167.61,343.46 L168.98,342.96 L170.35,342.38 L171.72,341.72 L173.09,340.97 L174.46,340.11 L175.83,339.13 L177.20,338.02 L178.57,336.77 L179.94,335.35 L181.31,333.75 L182.68,331.96 L184.05,329.95 L185.42,327.72 L186.79,325.27 L188.16,322.58 L189.53,319.66 L190.90,316.54 L192.27,313.23 L193.64,309.77 L195.01,306.22 L196.38,302.63 L197.75,299.07 L199.12,295.60 L200.49,292.28 L201.86,289.18 L203.23,286.32 L204.60,283.74 L205.97,281.44 L207.34,279.43 L208.71,277.69 L210.08,276.20 L211.45,274.95 L212.82,273.89 L214.19,273.02 L215.56,272.29 L216.93,271.70 L218.30,271.21 L219.67,270.81 L221.04,270.48 L222.41,270.22 L223.78,270.00 L225.15,269.83 L226.52,269.69" fill="none" stroke="#1a1aff" stroke-width="1.1"/>
<line x1="63.50" y1="326.60" x2="63.50" y2="350.90" stroke="#1a1aff" stroke-width="1.0" />
<line x1="60.30" y1="326.60" x2="66.70" y2="326.60" stroke="#1a1aff" stroke-width="1.0" />
<line x1="60.30" y1="350.90" x2="66.70" y2="350.90" stroke="#1a1aff" stroke-width="1.0" />
<circle cx="63.50" cy="338.80" r="3.0" fill="#1a1aff"/>
<line x1="140.72" y1="317.10" x2="140.72" y2="346.70" stroke="#1a1aff" stroke-width="1.0" />
<line x1="137.52" y1="317.10" x2="143.92" y2="317.10" stroke="#1a1aff" stroke-width="1.0" />
<line x1="137.52" y1="346.70" x2="143.92" y2="346.70" stroke="#1a1aff" stroke-width="1.0" />
<circle cx="140.72" cy="331.90" r="3.0" fill="#1a1aff"/>
<line x1="149.30" y1="336.90" x2="149.30" y2="359.80" stroke="#1a1aff" stroke-width="1.0" />
<line x1="146.10" y1="336.90" x2="152.50" y2="336.90" stroke="#1a1aff" stroke-width="1.0" />
<line x1="146.10" y1="359.80" x2="152.50" y2="359.80" stroke="#1a1aff" stroke-width="1.0" />
<circle cx="149.30" cy="348.20" r="3.0" fill="#1a1aff"/>
<line x1="157.88" y1="316.10" x2="157.88" y2="342.00" stroke="#1a1aff" stroke-width="1.0" />
<line x1="154.68" y1="316.10" x2="161.08" y2="316.10" stroke="#1a1aff" stroke-width="1.0" />
<line x1="154.68" y1="342.00" x2="161.08" y2="342.00" stroke="#1a1aff" stroke-width="1.0" />
<circle cx="157.88" cy="329.10" r="3.0" fill="#1a1aff"/>
<line x1="166.46" y1="322.40" x2="166.46" y2="349.00" stroke="#1a1aff" stroke-width="1.0" />
<line x1="163.26" y1="322.40" x2="169.66" y2="322.40" stroke="#1a1aff" stroke-width="1.0" />
<line x1="163.26" y1="349.00" x2="169.66" y2="349.00" stroke="#1a1aff" stroke-width="1.0" />
<circle cx="166.46" cy="335.70" r="3.0" fill="#1a1aff"/>
<line x1="175.04" y1="319.60" x2="175.04" y2="348.60" stroke="#1a1aff" stroke-width="1.0" />
<line x1="171.84" y1="319.60" x2="178.24" y2="319.60" stroke="#1a1aff" stroke-width="1.0" />
<line x1="171.84" y1="348.60" x2="178.24" y2="348.60" stroke="#1a1aff" stroke-width="1.0" />
<circle cx="175.04" cy="334.10" r="3.0" fill="#1a1aff"/>
<line x1="183.62" y1="312.00" x2="183.62" y2="342.00" stroke="#1a1aff" stroke-width="1.0" />
<line x1="180.42" y1="312.00" x2="186.82" y2="312.00" stroke="#1a1aff" stroke-width="1.0" />
<line x1="180.42" y1="342.00" x2="186.82" y2="342.00" stroke="#1a1aff" stroke-width="1.0" />
<circle cx="183.62" cy="327.00" r="3.0" fill="#1a1aff"/>
<line x1="192.20" y1="296.20" x2="192.20" y2="320.40" stroke="#1a1aff" stroke-width="1.0" />
<line x1="189.00" y1="296.20" x2="195.40" y2="296.20" stroke="#1a1aff" stroke-width="1.0" />
<line x1="189.00" y1="320.40" x2="195.40" y2="320.40" stroke="#1a1aff" stroke-width="1.0" />
<circle cx="192.20" cy="308.60" r="3.0" fill="#1a1aff"/>
<line x1="200.78" y1="273.80" x2="200.78" y2="294.60" stroke="#1a1aff" stroke-width="1.0" />
<line x1="197.58" y1="273.80" x2="203.98" y2="273.80" stroke="#1a1aff" stroke-width="1.0" />
<line x1="197.58" y1="294.60" x2="203.98" y2="294.60" stroke="#1a1aff" stroke-width="1.0" />
<circle cx="200.78" cy="284.20" r="3.0" fill="#1a1aff"/>
<line x1="209.36" y1="268.50" x2="209.36" y2="283.30" stroke="#1a1aff" stroke-width="1.0" />
<line x1="206.16" y1="268.50" x2="212.56" y2="268.50" stroke="#1a1aff" stroke-width="1.0" />
<line x1="206.16" y1="283.30" x2="212.56" y2="283.30" stroke="#1a1aff" stroke-width="1.0" />
<circle cx="209.36" cy="275.70" r="3.0" fill="#1a1aff"/>
<line x1="217.94" y1="270.00" x2="217.94" y2="283.00" stroke="#1a1aff" stroke-width="1.0" />
<line x1="214.74" y1="270.00" x2="221.14" y2="270.00" stroke="#1a1aff" stroke-width="1.0" />
<line x1="214.74" y1="283.00" x2="221.14" y2="283.00" stroke="#1a1aff" stroke-width="1.0" />
<circle cx="217.94" cy="276.60" r="3.0" fill="#1a1aff"/>
<line x1="226.52" y1="260.50" x2="226.52" y2="280.40" stroke="#1a1aff" stroke-width="1.0" />
<line x1="223.32" y1="260.50" x2="229.72" y2="260.50" stroke="#1a1aff" stroke-width="1.0" />
<line x1="223.32" y1="280.40" x2="229.72" y2="280.40" stroke="#1a1aff" stroke-width="1.0" />
<circle cx="226.52" cy="270.00" r="3.0" fill="#1a1aff"/>
<polygon points="65.00,247.80 66.92,244.90 70.08,244.90 72.00,247.80 70.08,250.70 66.92,250.70" fill="#1a1aff" stroke="#1a1aff" stroke-width="0.6" stroke-linejoin="round"/>
<rect x="64.3" y="258.4" width="6.5" height="6.400000000000034" fill="#fff" stroke="#ff2a1a" stroke-width="0.95"/>
<line x1="64.00" y1="261.60" x2="71.10" y2="261.60" stroke="#ff2a1a" stroke-width="1.6" />
<text class="s" transform="translate(75.93,250.50) scale(1.0008,1.06)" font-size="9.30" >Sham</text>
<text class="s" transform="translate(74.82,264.80) scale(1.0308,1.06)" font-size="9.30" >0.08 W/kg</text>
<text class="r" transform="translate(2.62,232.75) scale(1.0000,0.9917)" font-size="15.91" >C</text>
<g transform="translate(11.10,304.80) rotate(-90)">
<text class="s" transform="translate(-23.57,3.89) scale(1.0000,1.12)" font-size="10.10" >Net BRET</text>
</g>
<text class="s" transform="translate(101.11,414.70) scale(1.0253,1.08)"><tspan x="0.00" y="0.00" font-size="10.10">Log[As</tspan><tspan x="34.78" y="2.81" font-size="7.88">2</tspan><tspan x="39.16" y="0.00" font-size="10.10">O</tspan><tspan x="47.02" y="2.81" font-size="7.88">3</tspan><tspan x="51.40" y="0.00" font-size="10.10">] (Log M)</tspan></text>
<line x1="324.50" y1="237.32" x2="324.50" y2="377.10" stroke="#000" stroke-width="1.1" />
<line x1="321.50" y1="376.60" x2="324.50" y2="376.60" stroke="#000" stroke-width="1.1" />
<text class="s" transform="translate(299.00,380.53) scale(1.0000,1.06)" font-size="11.00" >0.11</text>
<line x1="321.50" y1="353.47" x2="324.50" y2="353.47" stroke="#000" stroke-width="1.1" />
<text class="s" transform="translate(299.09,357.40) scale(1.0000,1.06)" font-size="11.00" >0.13</text>
<line x1="321.50" y1="330.34" x2="324.50" y2="330.34" stroke="#000" stroke-width="1.1" />
<text class="s" transform="translate(299.00,334.27) scale(1.0000,1.06)" font-size="11.00" >0.15</text>
<line x1="321.50" y1="307.21" x2="324.50" y2="307.21" stroke="#000" stroke-width="1.1" />
<text class="s" transform="translate(299.17,311.14) scale(1.0000,1.06)" font-size="11.00" >0.17</text>
<line x1="321.50" y1="284.08" x2="324.50" y2="284.08" stroke="#000" stroke-width="1.1" />
<text class="s" transform="translate(299.10,288.01) scale(1.0000,1.06)" font-size="11.00" >0.19</text>
<line x1="321.50" y1="260.95" x2="324.50" y2="260.95" stroke="#000" stroke-width="1.1" />
<text class="s" transform="translate(299.00,264.88) scale(1.0000,1.06)" font-size="11.00" >0.21</text>
<line x1="321.50" y1="237.82" x2="324.50" y2="237.82" stroke="#000" stroke-width="1.1" />
<text class="s" transform="translate(299.09,241.75) scale(1.0000,1.06)" font-size="11.00" >0.23</text>
<line x1="334.00" y1="385.90" x2="507.70" y2="385.90" stroke="#000" stroke-width="1.1" />
<line x1="334.50" y1="385.90" x2="334.50" y2="388.40" stroke="#000" stroke-width="1.1" />
<text class="s" transform="translate(326.92,399.50) scale(1.0000,1.06)" font-size="10.50" >-12</text>
<line x1="369.04" y1="385.90" x2="369.04" y2="388.40" stroke="#000" stroke-width="1.1" />
<text class="s" transform="translate(361.46,399.50) scale(1.0000,1.06)" font-size="10.50" >-10</text>
<line x1="403.58" y1="385.90" x2="403.58" y2="388.40" stroke="#000" stroke-width="1.1" />
<text class="s" transform="translate(398.87,399.50) scale(1.0000,1.06)" font-size="10.50" >-8</text>
<line x1="438.12" y1="385.90" x2="438.12" y2="388.40" stroke="#000" stroke-width="1.1" />
<text class="s" transform="translate(433.44,399.50) scale(1.0000,1.06)" font-size="10.50" >-6</text>
<line x1="472.66" y1="385.90" x2="472.66" y2="388.40" stroke="#000" stroke-width="1.1" />
<text class="s" transform="translate(467.82,399.50) scale(1.0000,1.06)" font-size="10.50" >-4</text>
<line x1="507.20" y1="385.90" x2="507.20" y2="388.40" stroke="#000" stroke-width="1.1" />
<text class="s" transform="translate(502.54,399.50) scale(1.0000,1.06)" font-size="10.50" >-2</text>
<line x1="334.50" y1="332.10" x2="334.50" y2="348.50" stroke="#ff2a1a" stroke-width="1.0" />
<line x1="331.30" y1="332.10" x2="337.70" y2="332.10" stroke="#ff2a1a" stroke-width="1.0" />
<line x1="331.30" y1="348.50" x2="337.70" y2="348.50" stroke="#ff2a1a" stroke-width="1.0" />
<rect x="331.90" y="337.80" width="5.2" height="5.2" fill="#fff" stroke="#ff2a1a" stroke-width="0.95"/>
<line x1="412.22" y1="325.00" x2="412.22" y2="335.20" stroke="#ff2a1a" stroke-width="1.0" />
<line x1="409.02" y1="325.00" x2="415.42" y2="325.00" stroke="#ff2a1a" stroke-width="1.0" />
<line x1="409.02" y1="335.20" x2="415.42" y2="335.20" stroke="#ff2a1a" stroke-width="1.0" />
<rect x="409.62" y="327.30" width="5.2" height="5.2" fill="#fff" stroke="#ff2a1a" stroke-width="0.95"/>
<line x1="420.85" y1="336.00" x2="420.85" y2="349.00" stroke="#ff2a1a" stroke-width="1.0" />
<line x1="417.65" y1="336.00" x2="424.05" y2="336.00" stroke="#ff2a1a" stroke-width="1.0" />
<line x1="417.65" y1="349.00" x2="424.05" y2="349.00" stroke="#ff2a1a" stroke-width="1.0" />
<rect x="418.25" y="339.80" width="5.2" height="5.2" fill="#fff" stroke="#ff2a1a" stroke-width="0.95"/>
<line x1="429.49" y1="335.70" x2="429.49" y2="352.40" stroke="#ff2a1a" stroke-width="1.0" />
<line x1="426.29" y1="335.70" x2="432.69" y2="335.70" stroke="#ff2a1a" stroke-width="1.0" />
<line x1="426.29" y1="352.40" x2="432.69" y2="352.40" stroke="#ff2a1a" stroke-width="1.0" />
<rect x="426.88" y="341.90" width="5.2" height="5.2" fill="#fff" stroke="#ff2a1a" stroke-width="0.95"/>
<line x1="438.12" y1="340.00" x2="438.12" y2="353.20" stroke="#ff2a1a" stroke-width="1.0" />
<line x1="434.92" y1="340.00" x2="441.32" y2="340.00" stroke="#ff2a1a" stroke-width="1.0" />
<line x1="434.92" y1="353.20" x2="441.32" y2="353.20" stroke="#ff2a1a" stroke-width="1.0" />
<rect x="435.52" y="343.60" width="5.2" height="5.2" fill="#fff" stroke="#ff2a1a" stroke-width="0.95"/>
<line x1="446.75" y1="336.00" x2="446.75" y2="350.00" stroke="#ff2a1a" stroke-width="1.0" />
<line x1="443.56" y1="336.00" x2="449.95" y2="336.00" stroke="#ff2a1a" stroke-width="1.0" />
<line x1="443.56" y1="350.00" x2="449.95" y2="350.00" stroke="#ff2a1a" stroke-width="1.0" />
<rect x="444.15" y="340.30" width="5.2" height="5.2" fill="#fff" stroke="#ff2a1a" stroke-width="0.95"/>
<line x1="455.39" y1="322.00" x2="455.39" y2="335.00" stroke="#ff2a1a" stroke-width="1.0" />
<line x1="452.19" y1="322.00" x2="458.59" y2="322.00" stroke="#ff2a1a" stroke-width="1.0" />
<line x1="452.19" y1="335.00" x2="458.59" y2="335.00" stroke="#ff2a1a" stroke-width="1.0" />
<rect x="452.79" y="325.70" width="5.2" height="5.2" fill="#fff" stroke="#ff2a1a" stroke-width="0.95"/>
<line x1="464.02" y1="301.40" x2="464.02" y2="320.40" stroke="#ff2a1a" stroke-width="1.0" />
<line x1="460.82" y1="301.40" x2="467.22" y2="301.40" stroke="#ff2a1a" stroke-width="1.0" />
<line x1="460.82" y1="320.40" x2="467.22" y2="320.40" stroke="#ff2a1a" stroke-width="1.0" />
<rect x="461.42" y="308.70" width="5.2" height="5.2" fill="#fff" stroke="#ff2a1a" stroke-width="0.95"/>
<line x1="472.66" y1="280.40" x2="472.66" y2="293.80" stroke="#ff2a1a" stroke-width="1.0" />
<line x1="469.46" y1="280.40" x2="475.86" y2="280.40" stroke="#ff2a1a" stroke-width="1.0" />
<line x1="469.46" y1="293.80" x2="475.86" y2="293.80" stroke="#ff2a1a" stroke-width="1.0" />
<rect x="470.06" y="284.50" width="5.2" height="5.2" fill="#fff" stroke="#ff2a1a" stroke-width="0.95"/>
<line x1="481.29" y1="280.40" x2="481.29" y2="290.90" stroke="#ff2a1a" stroke-width="1.0" />
<line x1="478.09" y1="280.40" x2="484.49" y2="280.40" stroke="#ff2a1a" stroke-width="1.0" />
<line x1="478.09" y1="290.90" x2="484.49" y2="290.90" stroke="#ff2a1a" stroke-width="1.0" />
<rect x="478.69" y="283.50" width="5.2" height="5.2" fill="#fff" stroke="#ff2a1a" stroke-width="0.95"/>
<line x1="489.93" y1="280.40" x2="489.93" y2="294.10" stroke="#ff2a1a" stroke-width="1.0" />
<line x1="486.73" y1="280.40" x2="493.13" y2="280.40" stroke="#ff2a1a" stroke-width="1.0" />
<line x1="486.73" y1="294.10" x2="493.13" y2="294.10" stroke="#ff2a1a" stroke-width="1.0" />
<rect x="487.33" y="284.40" width="5.2" height="5.2" fill="#fff" stroke="#ff2a1a" stroke-width="0.95"/>
<line x1="498.56" y1="272.80" x2="498.56" y2="290.00" stroke="#ff2a1a" stroke-width="1.0" />
<line x1="495.37" y1="272.80" x2="501.76" y2="272.80" stroke="#ff2a1a" stroke-width="1.0" />
<line x1="495.37" y1="290.00" x2="501.76" y2="290.00" stroke="#ff2a1a" stroke-width="1.0" />
<rect x="495.96" y="279.40" width="5.2" height="5.2" fill="#fff" stroke="#ff2a1a" stroke-width="0.95"/>
<path d="M334.50,342.88 L335.88,342.88 L337.26,342.88 L338.64,342.88 L340.01,342.88 L341.39,342.88 L342.77,342.88 L344.15,342.88 L345.53,342.88 L346.91,342.88 L348.29,342.88 L349.67,342.88 L351.04,342.88 L352.42,342.88 L353.80,342.88 L355.18,342.88 L356.56,342.88 L357.94,342.88 L359.32,342.88 L360.70,342.88 L362.07,342.88 L363.45,342.88 L364.83,342.88 L366.21,342.88 L367.59,342.88 L368.97,342.88 L370.35,342.88 L371.72,342.88 L373.10,342.88 L374.48,342.88 L375.86,342.88 L377.24,342.88 L378.62,342.88 L380.00,342.88 L381.38,342.88 L382.75,342.88 L384.13,342.88 L385.51,342.88 L386.89,342.87 L388.27,342.87 L389.65,342.87 L391.03,342.87 L392.41,342.87 L393.78,342.86 L395.16,342.86 L396.54,342.86 L397.92,342.85 L399.30,342.85 L400.68,342.84 L402.06,342.83 L403.43,342.83 L404.81,342.82 L406.19,342.80 L407.57,342.79 L408.95,342.78 L410.33,342.76 L411.71,342.74 L413.09,342.72 L414.46,342.69 L415.84,342.66 L417.22,342.62 L418.60,342.58 L419.98,342.53 L421.36,342.47 L422.74,342.41 L424.12,342.33 L425.49,342.24 L426.87,342.14 L428.25,342.02 L429.63,341.88 L431.01,341.72 L432.39,341.53 L433.77,341.31 L435.14,341.06 L436.52,340.77 L437.90,340.43 L439.28,340.04 L440.66,339.58 L442.04,339.06 L443.42,338.46 L444.80,337.76 L446.17,336.96 L447.55,336.04 L448.93,334.98 L450.31,333.77 L451.69,332.40 L453.07,330.85 L454.45,329.11 L455.83,327.16 L457.20,325.00 L458.58,322.64 L459.96,320.07 L461.34,317.33 L462.72,314.45 L464.10,311.47 L465.48,308.44 L466.85,305.43 L468.23,302.49 L469.61,299.69 L470.99,297.06 L472.37,294.66 L473.75,292.51 L475.13,290.60 L476.51,288.95 L477.88,287.53 L479.26,286.32 L480.64,285.32 L482.02,284.48 L483.40,283.79 L484.78,283.23 L486.16,282.77 L487.54,282.39 L488.91,282.09 L490.29,281.85 L491.67,281.65 L493.05,281.49 L494.43,281.37 L495.81,281.26 L497.19,281.18 L498.56,281.12" fill="none" stroke="#ff2a1a" stroke-width="1.1"/>
<path d="M334.50,345.92 L335.88,345.92 L337.26,345.92 L338.64,345.92 L340.01,345.92 L341.39,345.92 L342.77,345.92 L344.15,345.92 L345.53,345.92 L346.91,345.92 L348.29,345.92 L349.67,345.92 L351.04,345.92 L352.42,345.92 L353.80,345.92 L355.18,345.92 L356.56,345.92 L357.94,345.92 L359.32,345.92 L360.70,345.92 L362.07,345.92 L363.45,345.92 L364.83,345.92 L366.21,345.92 L367.59,345.92 L368.97,345.92 L370.35,345.92 L371.72,345.92 L373.10,345.92 L374.48,345.92 L375.86,345.92 L377.24,345.92 L378.62,345.92 L380.00,345.92 L381.38,345.92 L382.75,345.92 L384.13,345.92 L385.51,345.92 L386.89,345.92 L388.27,345.91 L389.65,345.91 L391.03,345.91 L392.41,345.91 L393.78,345.91 L395.16,345.91 L396.54,345.91 L397.92,345.91 L399.30,345.90 L400.68,345.90 L402.06,345.90 L403.43,345.90 L404.81,345.89 L406.19,345.89 L407.57,345.88 L408.95,345.87 L410.33,345.87 L411.71,345.86 L413.09,345.84 L414.46,345.83 L415.84,345.81 L417.22,345.79 L418.60,345.77 L419.98,345.74 L421.36,345.71 L422.74,345.67 L424.12,345.62 L425.49,345.56 L426.87,345.49 L428.25,345.41 L429.63,345.32 L431.01,345.20 L432.39,345.06 L433.77,344.90 L435.14,344.71 L436.52,344.48 L437.90,344.21 L439.28,343.88 L440.66,343.50 L442.04,343.05 L443.42,342.51 L444.80,341.88 L446.17,341.13 L447.55,340.26 L448.93,339.24 L450.31,338.04 L451.69,336.66 L453.07,335.06 L454.45,333.23 L455.83,331.14 L457.20,328.79 L458.58,326.16 L459.96,323.26 L461.34,320.11 L462.72,316.72 L464.10,313.14 L465.48,309.42 L466.85,305.63 L468.23,301.84 L469.61,298.13 L470.99,294.55 L472.37,291.18 L473.75,288.05 L475.13,285.19 L476.51,282.62 L477.88,280.34 L479.26,278.35 L480.64,276.63 L482.02,275.15 L483.40,273.90 L484.78,272.84 L486.16,271.95 L487.54,271.21 L488.91,270.59 L490.29,270.08 L491.67,269.66 L493.05,269.31 L494.43,269.02 L495.81,268.78 L497.19,268.59 L498.56,268.43" fill="none" stroke="#1a1aff" stroke-width="1.1"/>
<line x1="334.50" y1="325.70" x2="334.50" y2="349.90" stroke="#1a1aff" stroke-width="1.0" />
<line x1="331.30" y1="325.70" x2="337.70" y2="325.70" stroke="#1a1aff" stroke-width="1.0" />
<line x1="331.30" y1="349.90" x2="337.70" y2="349.90" stroke="#1a1aff" stroke-width="1.0" />
<circle cx="334.50" cy="337.80" r="3.0" fill="#1a1aff"/>
<line x1="412.22" y1="316.10" x2="412.22" y2="345.00" stroke="#1a1aff" stroke-width="1.0" />
<line x1="409.02" y1="316.10" x2="415.42" y2="316.10" stroke="#1a1aff" stroke-width="1.0" />
<line x1="409.02" y1="345.00" x2="415.42" y2="345.00" stroke="#1a1aff" stroke-width="1.0" />
<circle cx="412.22" cy="330.70" r="3.0" fill="#1a1aff"/>
<line x1="420.85" y1="335.40" x2="420.85" y2="359.00" stroke="#1a1aff" stroke-width="1.0" />
<line x1="417.65" y1="335.40" x2="424.05" y2="335.40" stroke="#1a1aff" stroke-width="1.0" />
<line x1="417.65" y1="359.00" x2="424.05" y2="359.00" stroke="#1a1aff" stroke-width="1.0" />
<circle cx="420.85" cy="347.40" r="3.0" fill="#1a1aff"/>
<line x1="429.49" y1="314.60" x2="429.49" y2="341.50" stroke="#1a1aff" stroke-width="1.0" />
<line x1="426.29" y1="314.60" x2="432.69" y2="314.60" stroke="#1a1aff" stroke-width="1.0" />
<line x1="426.29" y1="341.50" x2="432.69" y2="341.50" stroke="#1a1aff" stroke-width="1.0" />
<circle cx="429.49" cy="327.90" r="3.0" fill="#1a1aff"/>
<line x1="438.12" y1="321.30" x2="438.12" y2="348.50" stroke="#1a1aff" stroke-width="1.0" />
<line x1="434.92" y1="321.30" x2="441.32" y2="321.30" stroke="#1a1aff" stroke-width="1.0" />
<line x1="434.92" y1="348.50" x2="441.32" y2="348.50" stroke="#1a1aff" stroke-width="1.0" />
<circle cx="438.12" cy="334.90" r="3.0" fill="#1a1aff"/>
<line x1="446.75" y1="318.30" x2="446.75" y2="348.20" stroke="#1a1aff" stroke-width="1.0" />
<line x1="443.56" y1="318.30" x2="449.95" y2="318.30" stroke="#1a1aff" stroke-width="1.0" />
<line x1="443.56" y1="348.20" x2="449.95" y2="348.20" stroke="#1a1aff" stroke-width="1.0" />
<circle cx="446.75" cy="332.90" r="3.0" fill="#1a1aff"/>
<line x1="455.39" y1="310.80" x2="455.39" y2="340.70" stroke="#1a1aff" stroke-width="1.0" />
<line x1="452.19" y1="310.80" x2="458.59" y2="310.80" stroke="#1a1aff" stroke-width="1.0" />
<line x1="452.19" y1="340.70" x2="458.59" y2="340.70" stroke="#1a1aff" stroke-width="1.0" />
<circle cx="455.39" cy="325.80" r="3.0" fill="#1a1aff"/>
<line x1="464.02" y1="295.30" x2="464.02" y2="319.40" stroke="#1a1aff" stroke-width="1.0" />
<line x1="460.82" y1="295.30" x2="467.22" y2="295.30" stroke="#1a1aff" stroke-width="1.0" />
<line x1="460.82" y1="319.40" x2="467.22" y2="319.40" stroke="#1a1aff" stroke-width="1.0" />
<circle cx="464.02" cy="307.10" r="3.0" fill="#1a1aff"/>
<line x1="472.66" y1="271.90" x2="472.66" y2="292.70" stroke="#1a1aff" stroke-width="1.0" />
<line x1="469.46" y1="271.90" x2="475.86" y2="271.90" stroke="#1a1aff" stroke-width="1.0" />
<line x1="469.46" y1="292.70" x2="475.86" y2="292.70" stroke="#1a1aff" stroke-width="1.0" />
<circle cx="472.66" cy="282.30" r="3.0" fill="#1a1aff"/>
<line x1="481.29" y1="266.20" x2="481.29" y2="282.30" stroke="#1a1aff" stroke-width="1.0" />
<line x1="478.09" y1="266.20" x2="484.49" y2="266.20" stroke="#1a1aff" stroke-width="1.0" />
<line x1="478.09" y1="282.30" x2="484.49" y2="282.30" stroke="#1a1aff" stroke-width="1.0" />
<circle cx="481.29" cy="274.30" r="3.0" fill="#1a1aff"/>
<line x1="489.93" y1="268.00" x2="489.93" y2="282.00" stroke="#1a1aff" stroke-width="1.0" />
<line x1="486.73" y1="268.00" x2="493.13" y2="268.00" stroke="#1a1aff" stroke-width="1.0" />
<line x1="486.73" y1="282.00" x2="493.13" y2="282.00" stroke="#1a1aff" stroke-width="1.0" />
<circle cx="489.93" cy="275.10" r="3.0" fill="#1a1aff"/>
<line x1="498.56" y1="258.60" x2="498.56" y2="278.50" stroke="#1a1aff" stroke-width="1.0" />
<line x1="495.37" y1="258.60" x2="501.76" y2="258.60" stroke="#1a1aff" stroke-width="1.0" />
<line x1="495.37" y1="278.50" x2="501.76" y2="278.50" stroke="#1a1aff" stroke-width="1.0" />
<circle cx="498.56" cy="268.50" r="3.0" fill="#1a1aff"/>
<polygon points="332.50,246.00 334.43,243.10 337.57,243.10 339.50,246.00 337.57,248.90 334.43,248.90" fill="#1a1aff" stroke="#1a1aff" stroke-width="0.6" stroke-linejoin="round"/>
<rect x="331.6" y="256.5" width="6.899999999999977" height="6.699999999999989" fill="#fff" stroke="#ff2a1a" stroke-width="0.95"/>
<line x1="331.30" y1="259.85" x2="338.80" y2="259.85" stroke="#ff2a1a" stroke-width="1.6" />
<text class="s" transform="translate(343.23,249.00) scale(1.0037,1.06)" font-size="9.50" >Sham</text>
<text class="s" transform="translate(342.56,262.70) scale(0.9988,1.06)" font-size="9.50" >4 W/kg</text>
<text class="r" transform="translate(269.43,236.97) scale(1.0000,1.0285)" font-size="15.25" >D</text>
<g transform="translate(281.20,303.50) rotate(-90)">
<text class="s" transform="translate(-23.80,3.93) scale(1.0000,1.12)" font-size="10.20" >Net BRET</text>
</g>
<text class="s" transform="translate(372.30,414.70) scale(1.0249,1.08)"><tspan x="0.00" y="0.00" font-size="10.20">Log[As</tspan><tspan x="35.13" y="2.83" font-size="7.96">2</tspan><tspan x="39.55" y="0.00" font-size="10.20">O</tspan><tspan x="47.49" y="2.83" font-size="7.96">3</tspan><tspan x="51.91" y="0.00" font-size="10.20">] (Log M)</tspan></text>
<line x1="577.00" y1="10.10" x2="577.00" y2="110.80" stroke="#000" stroke-width="1.0" />
<line x1="574.10" y1="110.40" x2="577.00" y2="110.40" stroke="#000" stroke-width="1.0" />
<text class="sm" transform="translate(561.09,112.99) scale(1.0000,1.18)" font-size="6.20" >0.10</text>
<line x1="574.10" y1="93.75" x2="577.00" y2="93.75" stroke="#000" stroke-width="1.0" />
<text class="sm" transform="translate(561.08,96.34) scale(1.0000,1.18)" font-size="6.20" >0.12</text>
<line x1="574.10" y1="77.10" x2="577.00" y2="77.10" stroke="#000" stroke-width="1.0" />
<text class="sm" transform="translate(560.87,79.69) scale(1.0000,1.18)" font-size="6.20" >0.14</text>
<line x1="574.10" y1="60.45" x2="577.00" y2="60.45" stroke="#000" stroke-width="1.0" />
<text class="sm" transform="translate(561.06,63.04) scale(1.0000,1.18)" font-size="6.20" >0.16</text>
<line x1="574.10" y1="43.80" x2="577.00" y2="43.80" stroke="#000" stroke-width="1.0" />
<text class="sm" transform="translate(561.02,46.39) scale(1.0000,1.18)" font-size="6.20" >0.18</text>
<line x1="574.10" y1="27.15" x2="577.00" y2="27.15" stroke="#000" stroke-width="1.0" />
<text class="sm" transform="translate(561.09,29.74) scale(1.0000,1.18)" font-size="6.20" >0.20</text>
<line x1="574.10" y1="10.50" x2="577.00" y2="10.50" stroke="#000" stroke-width="1.0" />
<text class="sm" transform="translate(561.08,13.09) scale(1.0000,1.18)" font-size="6.20" >0.22</text>
<line x1="583.80" y1="110.20" x2="677.50" y2="110.20" stroke="#000" stroke-width="1.0" />
<line x1="592.30" y1="110.20" x2="592.30" y2="112.80" stroke="#000" stroke-width="1.0" />
<line x1="605.20" y1="110.20" x2="605.20" y2="112.80" stroke="#000" stroke-width="1.0" />
<line x1="617.60" y1="110.20" x2="617.60" y2="112.80" stroke="#000" stroke-width="1.0" />
<line x1="630.90" y1="110.20" x2="630.90" y2="112.80" stroke="#000" stroke-width="1.0" />
<line x1="643.70" y1="110.20" x2="643.70" y2="112.80" stroke="#000" stroke-width="1.0" />
<line x1="656.10" y1="110.20" x2="656.10" y2="112.80" stroke="#000" stroke-width="1.0" />
<line x1="668.50" y1="110.20" x2="668.50" y2="112.80" stroke="#000" stroke-width="1.0" />
<line x1="592.60" y1="25.20" x2="592.60" y2="41.00" stroke="#000" stroke-width="1.0" />
<line x1="592.60" y1="65.40" x2="592.60" y2="71.20" stroke="#000" stroke-width="1.0" />
<line x1="590.80" y1="25.20" x2="594.40" y2="25.20" stroke="#000" stroke-width="1.0" />
<line x1="590.80" y1="71.20" x2="594.40" y2="71.20" stroke="#000" stroke-width="1.0" />
<rect x="589.00" y="41.00" width="7.20" height="24.40" fill="none" stroke="#000" stroke-width="1.0"/>
<line x1="589.00" y1="61.30" x2="596.20" y2="61.30" stroke="#000" stroke-width="1.0" />
<line x1="605.10" y1="13.50" x2="605.10" y2="32.70" stroke="#000" stroke-width="1.0" />
<line x1="605.10" y1="72.60" x2="605.10" y2="85.50" stroke="#000" stroke-width="1.0" />
<line x1="603.30" y1="13.50" x2="606.90" y2="13.50" stroke="#000" stroke-width="1.0" />
<line x1="603.30" y1="85.50" x2="606.90" y2="85.50" stroke="#000" stroke-width="1.0" />
<rect x="601.40" y="32.70" width="7.40" height="39.90" fill="none" stroke="#000" stroke-width="1.0"/>
<line x1="601.40" y1="56.60" x2="608.80" y2="56.60" stroke="#000" stroke-width="1.0" />
<line x1="617.75" y1="21.40" x2="617.75" y2="45.30" stroke="#000" stroke-width="1.0" />
<line x1="617.75" y1="68.80" x2="617.75" y2="73.10" stroke="#000" stroke-width="1.0" />
<line x1="615.95" y1="21.40" x2="619.55" y2="21.40" stroke="#000" stroke-width="1.0" />
<line x1="615.95" y1="73.10" x2="619.55" y2="73.10" stroke="#000" stroke-width="1.0" />
<rect x="614.30" y="45.30" width="6.90" height="23.50" fill="none" stroke="#000" stroke-width="1.0"/>
<line x1="614.30" y1="53.00" x2="621.20" y2="53.00" stroke="#000" stroke-width="1.0" />
<line x1="643.35" y1="69.10" x2="643.35" y2="75.50" stroke="#000" stroke-width="1.0" />
<line x1="643.35" y1="94.30" x2="643.35" y2="94.60" stroke="#000" stroke-width="1.0" />
<line x1="641.55" y1="69.10" x2="645.15" y2="69.10" stroke="#000" stroke-width="1.0" />
<line x1="641.55" y1="94.60" x2="645.15" y2="94.60" stroke="#000" stroke-width="1.0" />
<rect x="639.80" y="75.50" width="7.10" height="18.80" fill="none" stroke="#000" stroke-width="1.0"/>
<line x1="639.80" y1="79.30" x2="646.90" y2="79.30" stroke="#000" stroke-width="1.0" />
<line x1="655.95" y1="59.20" x2="655.95" y2="63.20" stroke="#000" stroke-width="1.0" />
<line x1="655.95" y1="98.70" x2="655.95" y2="106.60" stroke="#000" stroke-width="1.0" />
<line x1="654.15" y1="59.20" x2="657.75" y2="59.20" stroke="#000" stroke-width="1.0" />
<line x1="654.15" y1="106.60" x2="657.75" y2="106.60" stroke="#000" stroke-width="1.0" />
<rect x="652.20" y="63.20" width="7.50" height="35.50" fill="none" stroke="#000" stroke-width="1.0"/>
<line x1="652.20" y1="74.60" x2="659.70" y2="74.60" stroke="#000" stroke-width="1.0" />
<line x1="668.45" y1="61.10" x2="668.45" y2="68.40" stroke="#000" stroke-width="1.0" />
<line x1="668.45" y1="95.30" x2="668.45" y2="102.20" stroke="#000" stroke-width="1.0" />
<line x1="666.65" y1="61.10" x2="670.25" y2="61.10" stroke="#000" stroke-width="1.0" />
<line x1="666.65" y1="102.20" x2="670.25" y2="102.20" stroke="#000" stroke-width="1.0" />
<rect x="665.00" y="68.40" width="6.90" height="26.90" fill="none" stroke="#000" stroke-width="1.0"/>
<line x1="665.00" y1="73.40" x2="671.90" y2="73.40" stroke="#000" stroke-width="1.0" />
<text class="sm" transform="translate(548.62,119.80) scale(0.9890,1.18)" font-size="6.20" >SAR (W/kg)</text>
<text class="sm" transform="translate(591.19,119.80) scale(0.8500,1.18)" font-size="6.20" >0</text>
<text class="sm" transform="translate(599.16,119.80) scale(0.9715,1.18)" font-size="6.20" >0.08</text>
<text class="sm" transform="translate(615.82,119.80) scale(0.8500,1.18)" font-size="6.20" >4</text>
<text class="sm" transform="translate(642.29,119.80) scale(0.8500,1.18)" font-size="6.20" >0</text>
<text class="sm" transform="translate(649.85,119.80) scale(1.0317,1.18)" font-size="6.20" >0.08</text>
<text class="sm" transform="translate(667.22,119.80) scale(0.8500,1.18)" font-size="6.20" >4</text>
<text class="sm" transform="translate(588.45,134.90) scale(0.9949,1.18)" font-size="6.20" >Cytoplasm</text>
<text class="sm" transform="translate(638.09,134.90) scale(0.9885,1.18)" font-size="6.20" >Mitochondria</text>
<line x1="587.00" y1="125.80" x2="620.00" y2="125.80" stroke="#000" stroke-width="1.1" />
<line x1="636.80" y1="125.80" x2="675.90" y2="125.80" stroke="#000" stroke-width="1.1" />
<text class="sm" transform="translate(599.67,4.90) scale(1.0332,1.18)" font-size="6.30" >ns</text>
<line x1="598.80" y1="7.50" x2="608.10" y2="7.50" stroke="#000" stroke-width="1.0" />
<text class="sm" transform="translate(614.70,4.90) scale(0.9583,1.18)" font-size="6.30" >ns</text>
<line x1="614.10" y1="7.50" x2="622.60" y2="7.50" stroke="#000" stroke-width="1.0" />
<text class="sm" transform="translate(652.26,4.70) scale(1.0631,1.18)" font-size="6.30" >ns</text>
<line x1="651.00" y1="7.50" x2="660.90" y2="7.50" stroke="#000" stroke-width="1.0" />
<text class="sm" transform="translate(666.58,4.70) scale(1.0032,1.18)" font-size="6.30" >ns</text>
<line x1="666.00" y1="7.50" x2="674.80" y2="7.50" stroke="#000" stroke-width="1.0" />
<text class="r" transform="translate(527.04,18.50) scale(1.0000,1.0348)" font-size="15.20" >E</text>
<g transform="translate(551.90,59.60) rotate(-90)">
<text class="v" transform="translate(-17.15,2.56) scale(1.0000,1.18)" font-size="5.99" >Basal BRET</text>
</g>
<line x1="580.50" y1="159.32" x2="580.50" y2="250.00" stroke="#000" stroke-width="1.0" />
<line x1="577.60" y1="249.60" x2="580.50" y2="249.60" stroke="#000" stroke-width="1.0" />
<text class="sm" transform="translate(569.09,251.94) scale(1.0000,1.18)" font-size="5.60" >3.8</text>
<line x1="577.60" y1="236.76" x2="580.50" y2="236.76" stroke="#000" stroke-width="1.0" />
<text class="sm" transform="translate(569.14,239.10) scale(1.0000,1.18)" font-size="5.60" >4.0</text>
<line x1="577.60" y1="223.92" x2="580.50" y2="223.92" stroke="#000" stroke-width="1.0" />
<text class="sm" transform="translate(569.14,226.26) scale(1.0000,1.18)" font-size="5.60" >4.2</text>
<line x1="577.60" y1="211.08" x2="580.50" y2="211.08" stroke="#000" stroke-width="1.0" />
<text class="sm" transform="translate(568.95,213.42) scale(1.0000,1.18)" font-size="5.60" >4.4</text>
<line x1="577.60" y1="198.24" x2="580.50" y2="198.24" stroke="#000" stroke-width="1.0" />
<text class="sm" transform="translate(569.12,200.58) scale(1.0000,1.18)" font-size="5.60" >4.6</text>
<line x1="577.60" y1="185.40" x2="580.50" y2="185.40" stroke="#000" stroke-width="1.0" />
<text class="sm" transform="translate(569.09,187.74) scale(1.0000,1.18)" font-size="5.60" >4.8</text>
<line x1="577.60" y1="172.56" x2="580.50" y2="172.56" stroke="#000" stroke-width="1.0" />
<text class="sm" transform="translate(569.14,174.90) scale(1.0000,1.18)" font-size="5.60" >5.0</text>
<line x1="577.60" y1="159.72" x2="580.50" y2="159.72" stroke="#000" stroke-width="1.0" />
<text class="sm" transform="translate(569.14,162.06) scale(1.0000,1.18)" font-size="5.60" >5.2</text>
<line x1="587.20" y1="256.00" x2="677.90" y2="256.00" stroke="#000" stroke-width="1.0" />
<line x1="595.40" y1="256.00" x2="595.40" y2="258.60" stroke="#000" stroke-width="1.0" />
<line x1="607.70" y1="256.00" x2="607.70" y2="258.60" stroke="#000" stroke-width="1.0" />
<line x1="619.90" y1="256.00" x2="619.90" y2="258.60" stroke="#000" stroke-width="1.0" />
<line x1="632.50" y1="256.00" x2="632.50" y2="258.60" stroke="#000" stroke-width="1.0" />
<line x1="644.60" y1="256.00" x2="644.60" y2="258.60" stroke="#000" stroke-width="1.0" />
<line x1="657.40" y1="256.00" x2="657.40" y2="258.60" stroke="#000" stroke-width="1.0" />
<line x1="669.90" y1="256.00" x2="669.90" y2="258.60" stroke="#000" stroke-width="1.0" />
<line x1="595.45" y1="185.20" x2="595.45" y2="194.60" stroke="#000" stroke-width="1.0" />
<line x1="595.45" y1="222.40" x2="595.45" y2="239.50" stroke="#000" stroke-width="1.0" />
<line x1="593.65" y1="185.20" x2="597.25" y2="185.20" stroke="#000" stroke-width="1.0" />
<line x1="593.65" y1="239.50" x2="597.25" y2="239.50" stroke="#000" stroke-width="1.0" />
<rect x="591.90" y="194.60" width="7.10" height="27.80" fill="none" stroke="#000" stroke-width="1.0"/>
<line x1="591.90" y1="203.10" x2="599.00" y2="203.10" stroke="#000" stroke-width="1.0" />
<line x1="607.95" y1="196.70" x2="607.95" y2="198.00" stroke="#000" stroke-width="1.0" />
<line x1="607.95" y1="218.70" x2="607.95" y2="227.30" stroke="#000" stroke-width="1.0" />
<line x1="606.15" y1="196.70" x2="609.75" y2="196.70" stroke="#000" stroke-width="1.0" />
<line x1="606.15" y1="227.30" x2="609.75" y2="227.30" stroke="#000" stroke-width="1.0" />
<rect x="604.70" y="198.00" width="6.50" height="20.70" fill="none" stroke="#000" stroke-width="1.0"/>
<line x1="604.70" y1="205.50" x2="611.20" y2="205.50" stroke="#000" stroke-width="1.0" />
<line x1="620.05" y1="168.10" x2="620.05" y2="176.60" stroke="#000" stroke-width="1.0" />
<line x1="620.05" y1="208.70" x2="620.05" y2="242.20" stroke="#000" stroke-width="1.0" />
<line x1="618.25" y1="168.10" x2="621.85" y2="168.10" stroke="#000" stroke-width="1.0" />
<line x1="618.25" y1="242.20" x2="621.85" y2="242.20" stroke="#000" stroke-width="1.0" />
<rect x="616.50" y="176.60" width="7.10" height="32.10" fill="none" stroke="#000" stroke-width="1.0"/>
<line x1="616.50" y1="190.30" x2="623.60" y2="190.30" stroke="#000" stroke-width="1.0" />
<line x1="644.95" y1="201.70" x2="644.95" y2="206.60" stroke="#000" stroke-width="1.0" />
<line x1="644.95" y1="233.10" x2="644.95" y2="237.10" stroke="#000" stroke-width="1.0" />
<line x1="643.15" y1="201.70" x2="646.75" y2="201.70" stroke="#000" stroke-width="1.0" />
<line x1="643.15" y1="237.10" x2="646.75" y2="237.10" stroke="#000" stroke-width="1.0" />
<rect x="641.60" y="206.60" width="6.70" height="26.50" fill="none" stroke="#000" stroke-width="1.0"/>
<line x1="641.60" y1="213.00" x2="648.30" y2="213.00" stroke="#000" stroke-width="1.0" />
<line x1="657.25" y1="200.60" x2="657.25" y2="204.50" stroke="#000" stroke-width="1.0" />
<line x1="657.25" y1="223.70" x2="657.25" y2="234.00" stroke="#000" stroke-width="1.0" />
<line x1="655.45" y1="200.60" x2="659.05" y2="200.60" stroke="#000" stroke-width="1.0" />
<line x1="655.45" y1="234.00" x2="659.05" y2="234.00" stroke="#000" stroke-width="1.0" />
<rect x="654.00" y="204.50" width="6.50" height="19.20" fill="none" stroke="#000" stroke-width="1.0"/>
<line x1="654.00" y1="216.70" x2="660.50" y2="216.70" stroke="#000" stroke-width="1.0" />
<line x1="669.60" y1="182.40" x2="669.60" y2="187.40" stroke="#000" stroke-width="1.0" />
<line x1="669.60" y1="214.50" x2="669.60" y2="229.10" stroke="#000" stroke-width="1.0" />
<line x1="667.80" y1="182.40" x2="671.40" y2="182.40" stroke="#000" stroke-width="1.0" />
<line x1="667.80" y1="229.10" x2="671.40" y2="229.10" stroke="#000" stroke-width="1.0" />
<rect x="665.80" y="187.40" width="7.60" height="27.10" fill="none" stroke="#000" stroke-width="1.0"/>
<line x1="665.80" y1="200.20" x2="673.40" y2="200.20" stroke="#000" stroke-width="1.0" />
<text class="sm" transform="translate(549.03,264.10) scale(0.9511,1.18)" font-size="6.20" >SAR(W/kg)</text>
<text class="sm" transform="translate(594.19,265.30) scale(0.8500,1.18)" font-size="6.20" >0</text>
<text class="sm" transform="translate(602.17,265.30) scale(0.9200,1.18)" font-size="6.20" >0.08</text>
<text class="sm" transform="translate(618.52,265.30) scale(0.8500,1.18)" font-size="6.20" >4</text>
<text class="sm" transform="translate(643.49,265.70) scale(0.8500,1.18)" font-size="6.20" >0</text>
<text class="sm" transform="translate(651.37,265.70) scale(0.9371,1.18)" font-size="6.20" >0.08</text>
<text class="sm" transform="translate(667.72,265.70) scale(0.8500,1.18)" font-size="6.20" >4</text>
<text class="sm" transform="translate(591.75,278.90) scale(0.9724,1.18)" font-size="6.20" >Cytoplasm</text>
<text class="sm" transform="translate(643.00,279.70) scale(0.9573,1.18)" font-size="6.20" >Mitochondria</text>
<line x1="592.30" y1="270.40" x2="626.10" y2="270.40" stroke="#000" stroke-width="1.1" />
<line x1="643.30" y1="270.40" x2="677.80" y2="270.40" stroke="#000" stroke-width="1.1" />
<text class="sm" transform="translate(604.18,154.60) scale(1.0032,1.18)" font-size="6.30" >ns</text>
<line x1="602.70" y1="157.40" x2="612.80" y2="157.40" stroke="#000" stroke-width="1.0" />
<text class="sm" transform="translate(617.02,154.60) scale(0.9134,1.18)" font-size="6.30" >ns</text>
<line x1="614.90" y1="157.40" x2="625.60" y2="157.40" stroke="#000" stroke-width="1.0" />
<text class="sm" transform="translate(653.48,154.60) scale(1.0032,1.18)" font-size="6.30" >ns</text>
<line x1="652.00" y1="157.40" x2="662.10" y2="157.40" stroke="#000" stroke-width="1.0" />
<text class="sm" transform="translate(665.71,154.60) scale(0.9433,1.18)" font-size="6.30" >ns</text>
<line x1="664.70" y1="157.40" x2="674.30" y2="157.40" stroke="#000" stroke-width="1.0" />
<text class="r" transform="translate(527.04,176.10) scale(1.0000,1.0777)" font-size="15.02" >F</text>
<g transform="translate(559.90,202.70) rotate(-90)">
<text class="v" transform="translate(-9.29,2.44) scale(1.0000,1.18)" font-size="5.92" >pEC50</text>
</g>
<line x1="584.40" y1="302.40" x2="584.40" y2="390.80" stroke="#000" stroke-width="1.0" />
<line x1="581.50" y1="390.40" x2="584.40" y2="390.40" stroke="#000" stroke-width="1.0" />
<text class="sm" transform="translate(568.90,393.07) scale(1.0000,1.18)" font-size="6.40" >0.02</text>
<line x1="581.50" y1="372.88" x2="584.40" y2="372.88" stroke="#000" stroke-width="1.0" />
<text class="sm" transform="translate(568.68,375.55) scale(1.0000,1.18)" font-size="6.40" >0.04</text>
<line x1="581.50" y1="355.36" x2="584.40" y2="355.36" stroke="#000" stroke-width="1.0" />
<text class="sm" transform="translate(568.88,358.03) scale(1.0000,1.18)" font-size="6.40" >0.06</text>
<line x1="581.50" y1="337.84" x2="584.40" y2="337.84" stroke="#000" stroke-width="1.0" />
<text class="sm" transform="translate(568.84,340.51) scale(1.0000,1.18)" font-size="6.40" >0.08</text>
<line x1="581.50" y1="320.32" x2="584.40" y2="320.32" stroke="#000" stroke-width="1.0" />
<text class="sm" transform="translate(568.91,322.99) scale(1.0000,1.18)" font-size="6.40" >0.10</text>
<line x1="581.50" y1="302.80" x2="584.40" y2="302.80" stroke="#000" stroke-width="1.0" />
<text class="sm" transform="translate(568.90,305.47) scale(1.0000,1.18)" font-size="6.40" >0.12</text>
<line x1="592.10" y1="397.00" x2="683.80" y2="397.00" stroke="#000" stroke-width="1.0" />
<line x1="599.80" y1="397.00" x2="599.80" y2="399.60" stroke="#000" stroke-width="1.0" />
<line x1="612.30" y1="397.00" x2="612.30" y2="399.60" stroke="#000" stroke-width="1.0" />
<line x1="624.90" y1="397.00" x2="624.90" y2="399.60" stroke="#000" stroke-width="1.0" />
<line x1="637.50" y1="397.00" x2="637.50" y2="399.60" stroke="#000" stroke-width="1.0" />
<line x1="650.20" y1="397.00" x2="650.20" y2="399.60" stroke="#000" stroke-width="1.0" />
<line x1="662.80" y1="397.00" x2="662.80" y2="399.60" stroke="#000" stroke-width="1.0" />
<line x1="675.10" y1="397.00" x2="675.10" y2="399.60" stroke="#000" stroke-width="1.0" />
<line x1="599.85" y1="303.20" x2="599.85" y2="320.30" stroke="#000" stroke-width="1.0" />
<line x1="599.85" y1="359.40" x2="599.85" y2="372.90" stroke="#000" stroke-width="1.0" />
<line x1="598.05" y1="303.20" x2="601.65" y2="303.20" stroke="#000" stroke-width="1.0" />
<line x1="598.05" y1="372.90" x2="601.65" y2="372.90" stroke="#000" stroke-width="1.0" />
<rect x="596.30" y="320.30" width="7.10" height="39.10" fill="none" stroke="#000" stroke-width="1.0"/>
<line x1="596.30" y1="339.10" x2="603.40" y2="339.10" stroke="#000" stroke-width="1.0" />
<line x1="612.45" y1="326.30" x2="612.45" y2="332.30" stroke="#000" stroke-width="1.0" />
<line x1="612.45" y1="360.10" x2="612.45" y2="367.40" stroke="#000" stroke-width="1.0" />
<line x1="610.65" y1="326.30" x2="614.25" y2="326.30" stroke="#000" stroke-width="1.0" />
<line x1="610.65" y1="367.40" x2="614.25" y2="367.40" stroke="#000" stroke-width="1.0" />
<rect x="608.70" y="332.30" width="7.50" height="27.80" fill="none" stroke="#000" stroke-width="1.0"/>
<line x1="608.70" y1="347.30" x2="616.20" y2="347.30" stroke="#000" stroke-width="1.0" />
<line x1="625.25" y1="320.60" x2="625.25" y2="327.80" stroke="#000" stroke-width="1.0" />
<line x1="625.25" y1="364.40" x2="625.25" y2="370.10" stroke="#000" stroke-width="1.0" />
<line x1="623.45" y1="320.60" x2="627.05" y2="320.60" stroke="#000" stroke-width="1.0" />
<line x1="623.45" y1="370.10" x2="627.05" y2="370.10" stroke="#000" stroke-width="1.0" />
<rect x="621.50" y="327.80" width="7.50" height="36.60" fill="none" stroke="#000" stroke-width="1.0"/>
<line x1="621.50" y1="343.00" x2="629.00" y2="343.00" stroke="#000" stroke-width="1.0" />
<line x1="650.40" y1="318.20" x2="650.40" y2="335.30" stroke="#000" stroke-width="1.0" />
<line x1="650.40" y1="367.30" x2="650.40" y2="382.50" stroke="#000" stroke-width="1.0" />
<line x1="648.60" y1="318.20" x2="652.20" y2="318.20" stroke="#000" stroke-width="1.0" />
<line x1="648.60" y1="382.50" x2="652.20" y2="382.50" stroke="#000" stroke-width="1.0" />
<rect x="646.60" y="335.30" width="7.60" height="32.00" fill="none" stroke="#000" stroke-width="1.0"/>
<line x1="646.60" y1="348.10" x2="654.20" y2="348.10" stroke="#000" stroke-width="1.0" />
<line x1="662.55" y1="338.70" x2="662.55" y2="345.60" stroke="#000" stroke-width="1.0" />
<line x1="662.55" y1="359.40" x2="662.55" y2="362.20" stroke="#000" stroke-width="1.0" />
<line x1="660.75" y1="338.70" x2="664.35" y2="338.70" stroke="#000" stroke-width="1.0" />
<line x1="660.75" y1="362.20" x2="664.35" y2="362.20" stroke="#000" stroke-width="1.0" />
<rect x="659.00" y="345.60" width="7.10" height="13.80" fill="none" stroke="#000" stroke-width="1.0"/>
<line x1="659.00" y1="354.10" x2="666.10" y2="354.10" stroke="#000" stroke-width="1.0" />
<line x1="675.35" y1="335.90" x2="675.35" y2="343.00" stroke="#000" stroke-width="1.0" />
<line x1="675.35" y1="369.70" x2="675.35" y2="376.60" stroke="#000" stroke-width="1.0" />
<line x1="673.55" y1="335.90" x2="677.15" y2="335.90" stroke="#000" stroke-width="1.0" />
<line x1="673.55" y1="376.60" x2="677.15" y2="376.60" stroke="#000" stroke-width="1.0" />
<rect x="671.80" y="343.00" width="7.10" height="26.70" fill="none" stroke="#000" stroke-width="1.0"/>
<line x1="671.80" y1="357.30" x2="678.90" y2="357.30" stroke="#000" stroke-width="1.0" />
<text class="sm" transform="translate(555.83,406.10) scale(0.9740,1.18)" font-size="6.20" >SAR (W/kg)</text>
<text class="sm" transform="translate(598.69,406.30) scale(0.8500,1.18)" font-size="6.20" >0</text>
<text class="sm" transform="translate(605.76,406.30) scale(0.9715,1.18)" font-size="6.20" >0.08</text>
<text class="sm" transform="translate(622.22,406.30) scale(0.8500,1.18)" font-size="6.20" >4</text>
<text class="sm" transform="translate(648.99,406.30) scale(0.8500,1.18)" font-size="6.20" >0</text>
<text class="sm" transform="translate(656.06,406.30) scale(0.9629,1.18)" font-size="6.20" >0.08</text>
<text class="sm" transform="translate(673.32,406.30) scale(0.8500,1.18)" font-size="6.20" >4</text>
<text class="sm" transform="translate(598.65,419.10) scale(0.9756,1.18)" font-size="6.20" >Cytoplasm</text>
<text class="sm" transform="translate(645.40,419.50) scale(0.9755,1.18)" font-size="6.20" >Mitochondria</text>
<line x1="596.50" y1="411.50" x2="631.20" y2="411.50" stroke="#000" stroke-width="1.1" />
<line x1="645.10" y1="411.40" x2="681.70" y2="411.40" stroke="#000" stroke-width="1.1" />
<text class="sm" transform="translate(608.21,298.50) scale(0.9284,1.18)" font-size="6.30" >ns</text>
<line x1="607.10" y1="300.70" x2="616.10" y2="300.70" stroke="#000" stroke-width="1.0" />
<text class="sm" transform="translate(620.31,298.50) scale(0.9433,1.18)" font-size="6.30" >ns</text>
<line x1="619.50" y1="300.70" x2="628.50" y2="300.70" stroke="#000" stroke-width="1.0" />
<text class="sm" transform="translate(661.68,298.50) scale(1.0032,1.18)" font-size="6.30" >ns</text>
<line x1="660.60" y1="300.70" x2="670.30" y2="300.70" stroke="#000" stroke-width="1.0" />
<text class="sm" transform="translate(673.49,298.50) scale(0.9883,1.18)" font-size="6.30" >ns</text>
<line x1="672.80" y1="300.70" x2="681.60" y2="300.70" stroke="#000" stroke-width="1.0" />
<text class="r" transform="translate(527.74,312.45) scale(1.0000,0.9868)" font-size="15.53" >G</text>
<g transform="translate(564.00,345.20) rotate(-90)">
<text class="v" transform="translate(-23.49,2.47) scale(1.0000,1.18)" font-size="5.78" >Maximal Efficacy</text>
</g>
</svg>
</body></html>
